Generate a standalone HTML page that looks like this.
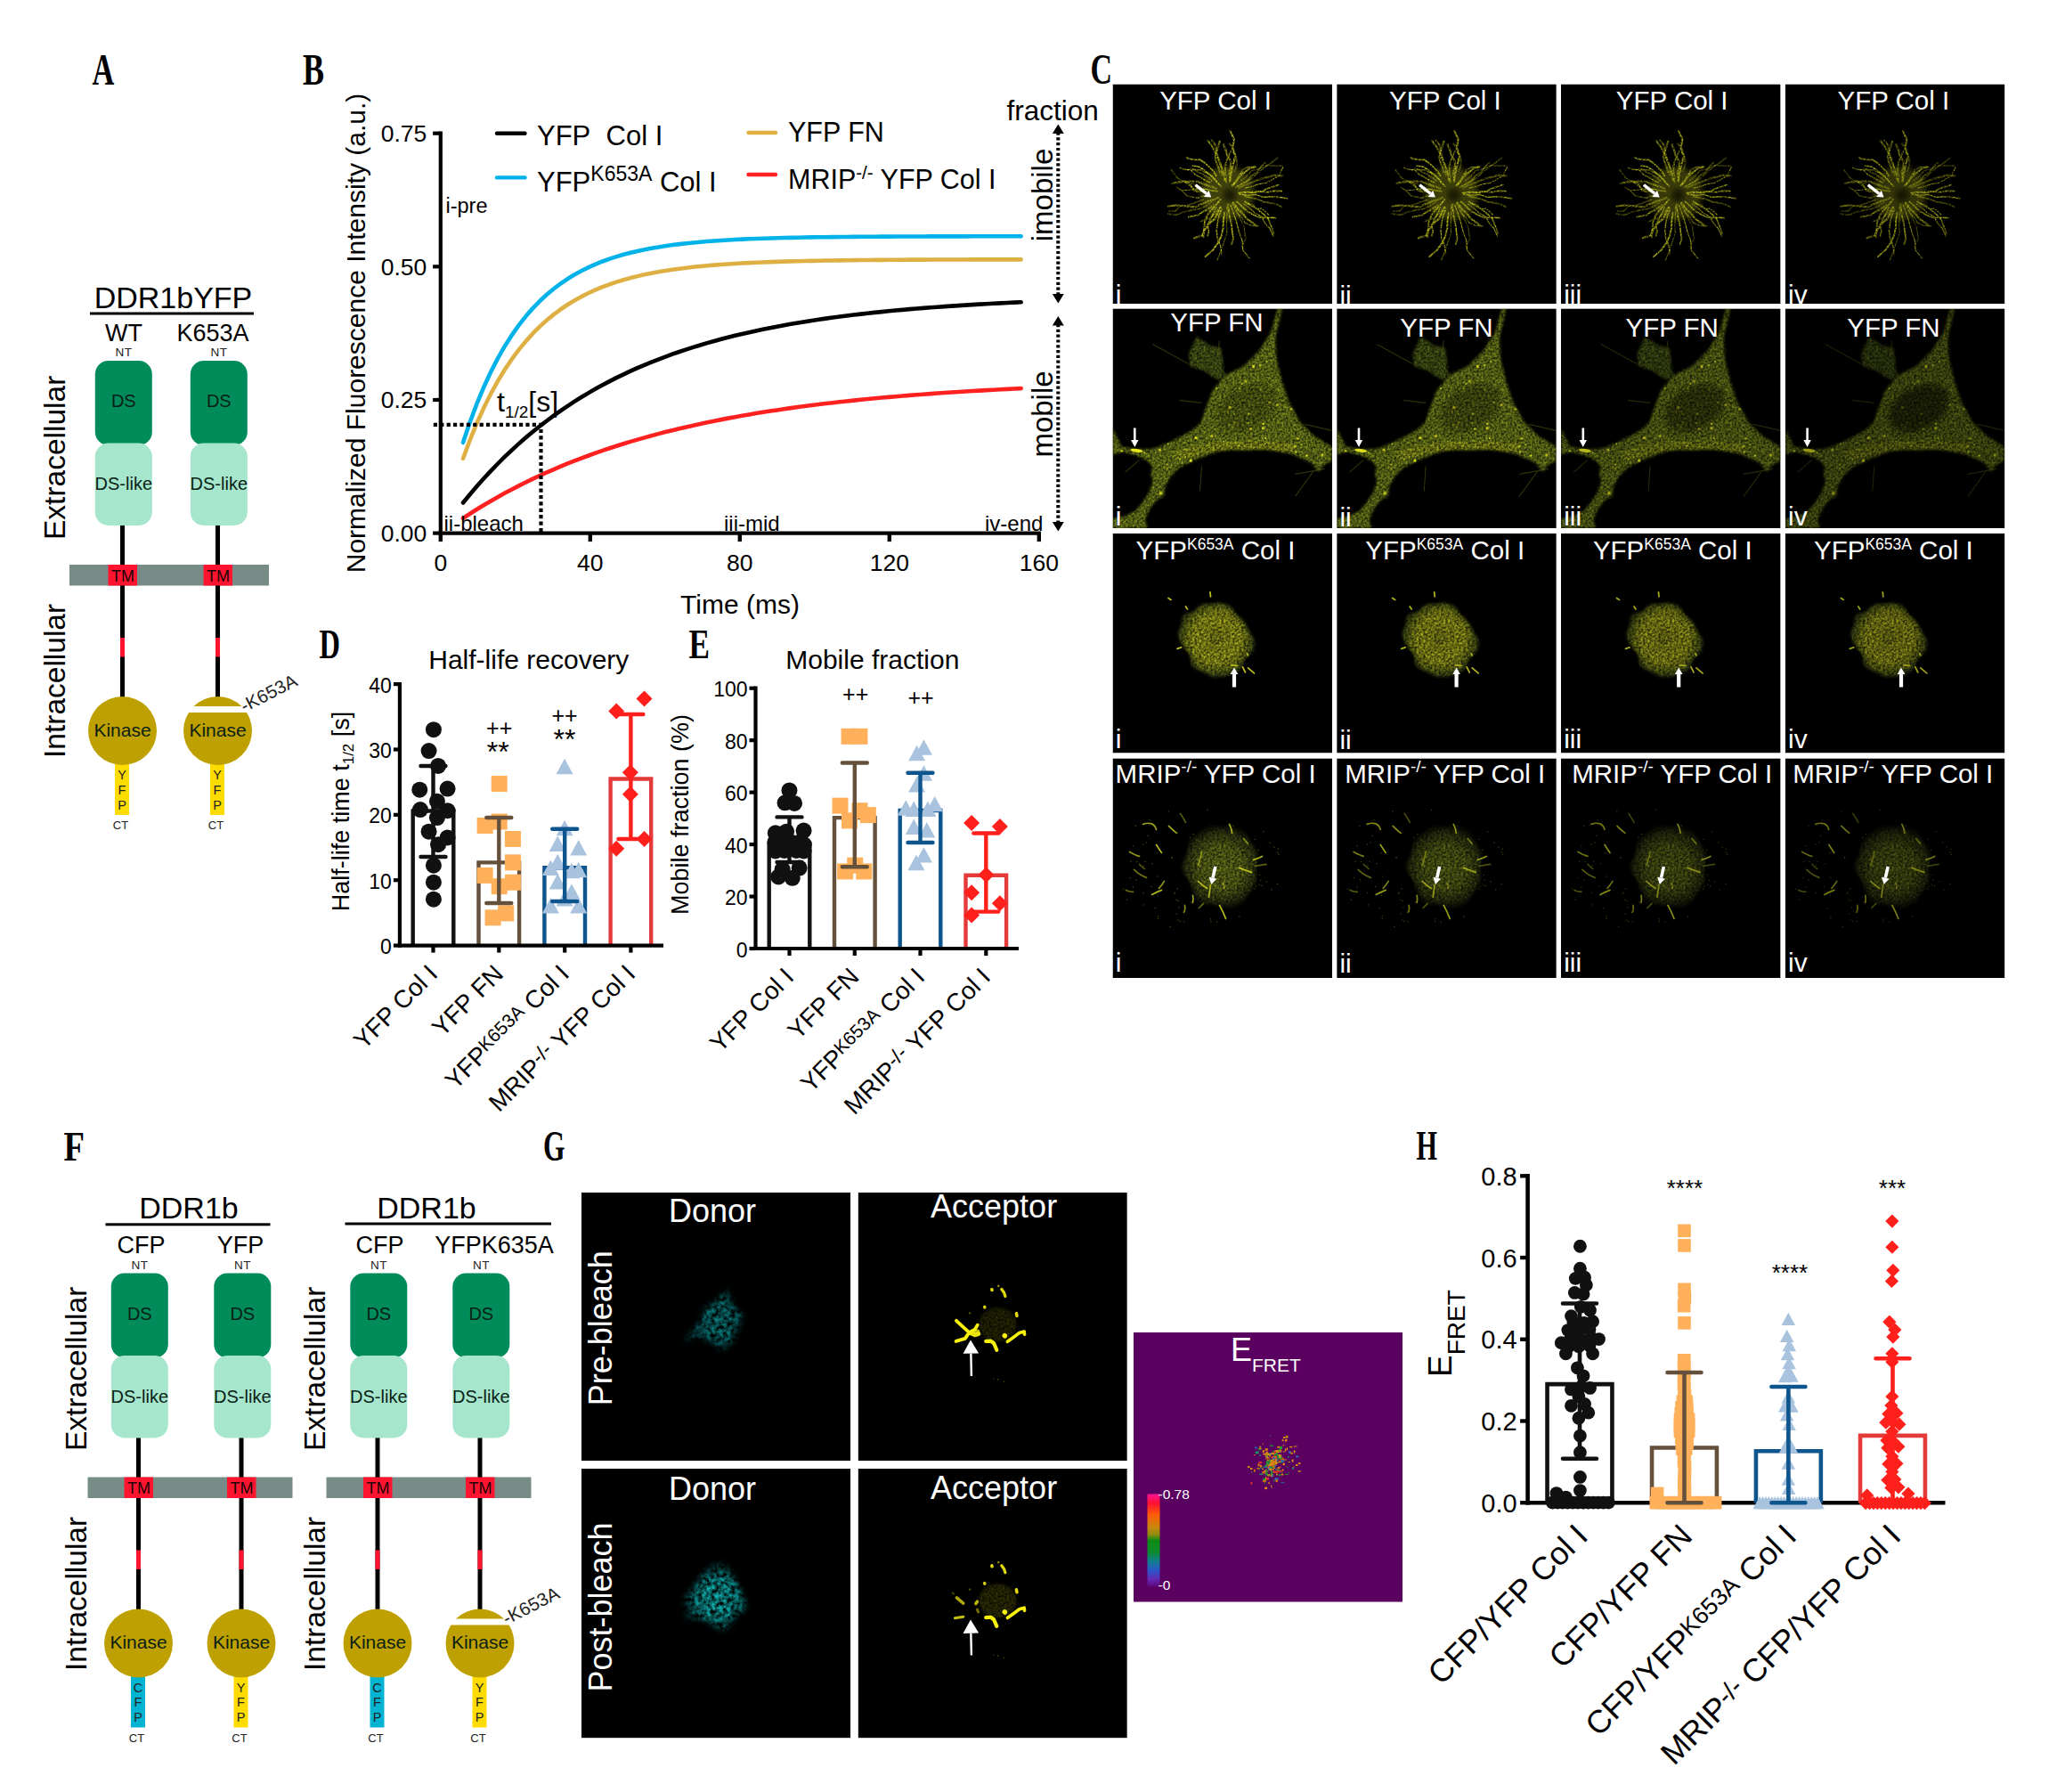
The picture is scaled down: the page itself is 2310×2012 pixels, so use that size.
<!DOCTYPE html>
<html lang="en"><head><meta charset="utf-8"><title>Figure</title>
<style>
html,body{margin:0;padding:0;background:#fff;}
body{width:2310px;height:2012px;overflow:hidden;}
svg{display:block;font-family:"Liberation Sans",sans-serif;}
</style></head><body>
<svg width="2310" height="2012" viewBox="0 0 2310 2012">
<rect width="2310" height="2012" fill="#fff"/>
<g id="pA">
<text x="103.5" y="94.5" font-size="51.45" font-family='"Liberation Serif", serif' font-weight="bold" textLength="24.8" lengthAdjust="spacingAndGlyphs">A</text>
<text x="194.5" y="345.5" font-size="34" text-anchor="middle">DDR1bYFP</text>
<rect x="101" y="350.5" width="184" height="3" fill="#000"/>
<text x="139" y="382.5" font-size="27" text-anchor="middle">WT</text>
<text x="239" y="382.5" font-size="27" text-anchor="middle">K653A</text>
<rect x="78" y="634" width="224" height="23.5" fill="#788c87"/>
<text x="139" y="400" font-size="13.5" text-anchor="middle" fill="#222" letter-spacing="0.6">NT</text>
<rect x="135" y="585" width="5" height="210" fill="#000"/>
<rect x="135" y="716" width="5" height="21.5" fill="#ff1430"/>
<rect x="106.8" y="405" width="64" height="95" fill="#008c5a" rx="15" ry="15"/>
<rect x="106.8" y="497.5" width="64" height="92.5" fill="#a5e6cd" rx="15" ry="15"/>
<text x="138.8" y="457" font-size="20" text-anchor="middle" fill="#0b1f16">DS</text>
<text x="138.8" y="550" font-size="20" text-anchor="middle" fill="#0b1f16">DS-like</text>
<rect x="129" y="855" width="16" height="60" fill="#ffdc00"/>
<circle cx="137.5" cy="820.5" r="38.5" fill="#bea000"/>
<text x="137.5" y="826.5" font-size="21" text-anchor="middle" fill="#0b1f16">Kinase</text>
<text x="137" y="875" font-size="14.5" text-anchor="middle" fill="#222">Y</text>
<text x="137" y="891.8" font-size="14.5" text-anchor="middle" fill="#222">F</text>
<text x="137" y="908.6" font-size="14.5" text-anchor="middle" fill="#222">P</text>
<text x="135.5" y="931" font-size="13" text-anchor="middle" fill="#222">CT</text>
<text x="246" y="400" font-size="13.5" text-anchor="middle" fill="#222" letter-spacing="0.6">NT</text>
<rect x="242" y="585" width="5" height="210" fill="#000"/>
<rect x="242" y="716" width="5" height="21.5" fill="#ff1430"/>
<rect x="213.8" y="405" width="64" height="95" fill="#008c5a" rx="15" ry="15"/>
<rect x="213.8" y="497.5" width="64" height="92.5" fill="#a5e6cd" rx="15" ry="15"/>
<text x="245.8" y="457" font-size="20" text-anchor="middle" fill="#0b1f16">DS</text>
<text x="245.8" y="550" font-size="20" text-anchor="middle" fill="#0b1f16">DS-like</text>
<rect x="236" y="855" width="16" height="60" fill="#ffdc00"/>
<circle cx="244.5" cy="820.5" r="38.5" fill="#bea000"/>
<rect x="204.5" y="793" width="80" height="7" fill="#fff"/>
<text x="244.5" y="826.5" font-size="21" text-anchor="middle" fill="#0b1f16">Kinase</text>
<text x="244" y="875" font-size="14.5" text-anchor="middle" fill="#222">Y</text>
<text x="244" y="891.8" font-size="14.5" text-anchor="middle" fill="#222">F</text>
<text x="244" y="908.6" font-size="14.5" text-anchor="middle" fill="#222">P</text>
<text x="242.5" y="931" font-size="13" text-anchor="middle" fill="#222">CT</text>
<text transform="translate(274.5 800) rotate(-27)" font-size="20.5" fill="#222">-K653A</text>
<rect x="121.5" y="634" width="32.5" height="23.5" fill="#ff1430"/>
<rect x="228.5" y="634" width="32.5" height="23.5" fill="#ff1430"/>
<text x="138" y="652.5" font-size="18" text-anchor="middle" fill="#1a0505">TM</text>
<text x="245" y="652.5" font-size="18" text-anchor="middle" fill="#1a0505">TM</text>
<text transform="translate(72.5 606) rotate(-90)" font-size="33.5">Extracellular</text>
<text transform="translate(72.5 851) rotate(-90)" font-size="33.5">Intracellular</text>
</g>
<g id="pB">
<text x="340" y="94.5" font-size="49.62" font-family='"Liberation Serif", serif' font-weight="bold" textLength="24" lengthAdjust="spacingAndGlyphs">B</text>
<polyline points="520,496.85 527.83,473.72 535.67,452.9 543.5,434.17 551.33,417.3 559.16,402.11 567,388.44 574.83,376.14 582.66,365.07 590.5,355.1 598.33,346.12 606.16,338.05 614,330.77 621.83,324.23 629.66,318.34 637.5,313.03 645.33,308.26 653.16,303.96 660.99,300.09 668.83,296.61 676.66,293.48 684.49,290.65 692.33,288.12 700.16,285.83 707.99,283.77 715.82,281.92 723.66,280.25 731.49,278.75 739.32,277.4 747.16,276.18 754.99,275.09 762.82,274.1 770.66,273.21 778.49,272.42 786.32,271.7 794.15,271.05 801.99,270.47 809.82,269.94 817.65,269.47 825.49,269.05 833.32,268.66 841.15,268.32 848.99,268.01 856.82,267.73 864.65,267.48 872.48,267.25 880.32,267.05 888.15,266.87 895.98,266.7 903.82,266.55 911.65,266.42 919.48,266.3 927.32,266.19 935.15,266.1 942.98,266.01 950.82,265.93 958.65,265.86 966.48,265.79 974.31,265.74 982.15,265.68 989.98,265.64 997.81,265.6 1005.65,265.56 1013.48,265.52 1021.31,265.49 1029.14,265.47 1036.98,265.44 1044.81,265.42 1052.64,265.4 1060.48,265.38 1068.31,265.36 1076.14,265.35 1083.98,265.34 1091.81,265.32 1099.64,265.31 1107.47,265.3 1115.31,265.3 1123.14,265.29 1130.97,265.28 1138.81,265.27 1146.64,265.27" fill="none" stroke="#00b2ea" stroke-width="4.6" stroke-linecap="round" stroke-linejoin="round"/>
<polyline points="520,514.81 527.83,493.77 535.67,474.71 543.5,457.44 551.33,441.8 559.16,427.63 567,414.79 574.83,403.17 582.66,392.63 590.5,383.09 598.33,374.45 606.16,366.62 614,359.53 621.83,353.1 629.66,347.28 637.5,342.01 645.33,337.23 653.16,332.9 660.99,328.98 668.83,325.43 676.66,322.21 684.49,319.3 692.33,316.66 700.16,314.27 707.99,312.1 715.82,310.14 723.66,308.36 731.49,306.75 739.32,305.29 747.16,303.97 754.99,302.78 762.82,301.69 770.66,300.71 778.49,299.82 786.32,299.01 794.15,298.28 801.99,297.62 809.82,297.02 817.65,296.48 825.49,295.99 833.32,295.54 841.15,295.14 848.99,294.77 856.82,294.44 864.65,294.14 872.48,293.87 880.32,293.62 888.15,293.4 895.98,293.2 903.82,293.01 911.65,292.85 919.48,292.7 927.32,292.56 935.15,292.44 942.98,292.33 950.82,292.23 958.65,292.14 966.48,292.05 974.31,291.98 982.15,291.91 989.98,291.85 997.81,291.79 1005.65,291.74 1013.48,291.69 1021.31,291.65 1029.14,291.62 1036.98,291.58 1044.81,291.55 1052.64,291.52 1060.48,291.5 1068.31,291.47 1076.14,291.45 1083.98,291.43 1091.81,291.42 1099.64,291.4 1107.47,291.39 1115.31,291.38 1123.14,291.36 1130.97,291.35 1138.81,291.34 1146.64,291.34" fill="none" stroke="#deb044" stroke-width="4.6" stroke-linecap="round" stroke-linejoin="round"/>
<polyline points="520,564.48 527.83,554.93 535.67,545.77 543.5,536.99 551.33,528.56 559.16,520.48 567,512.73 574.83,505.3 582.66,498.17 590.5,491.33 598.33,484.77 606.16,478.48 614,472.45 621.83,466.67 629.66,461.12 637.5,455.8 645.33,450.69 653.16,445.8 660.99,441.1 668.83,436.6 676.66,432.28 684.49,428.14 692.33,424.17 700.16,420.36 707.99,416.7 715.82,413.2 723.66,409.84 731.49,406.62 739.32,403.52 747.16,400.56 754.99,397.71 762.82,394.99 770.66,392.37 778.49,389.86 786.32,387.46 794.15,385.15 801.99,382.94 809.82,380.81 817.65,378.78 825.49,376.82 833.32,374.95 841.15,373.16 848.99,371.43 856.82,369.78 864.65,368.2 872.48,366.68 880.32,365.22 888.15,363.82 895.98,362.48 903.82,361.2 911.65,359.96 919.48,358.78 927.32,357.65 935.15,356.56 942.98,355.51 950.82,354.51 958.65,353.55 966.48,352.63 974.31,351.75 982.15,350.9 989.98,350.09 997.81,349.31 1005.65,348.57 1013.48,347.85 1021.31,347.16 1029.14,346.5 1036.98,345.87 1044.81,345.26 1052.64,344.68 1060.48,344.13 1068.31,343.59 1076.14,343.08 1083.98,342.59 1091.81,342.11 1099.64,341.66 1107.47,341.23 1115.31,340.81 1123.14,340.41 1130.97,340.03 1138.81,339.66 1146.64,339.31" fill="none" stroke="#000" stroke-width="4.6" stroke-linecap="round" stroke-linejoin="round"/>
<polyline points="520,581.84 527.83,576.74 535.67,571.8 543.5,567.02 551.33,562.4 559.16,557.93 567,553.61 574.83,549.42 582.66,545.37 590.5,541.46 598.33,537.67 606.16,534 614,530.46 621.83,527.02 629.66,523.71 637.5,520.49 645.33,517.39 653.16,514.38 660.99,511.47 668.83,508.66 676.66,505.94 684.49,503.3 692.33,500.76 700.16,498.29 707.99,495.91 715.82,493.6 723.66,491.37 731.49,489.21 739.32,487.12 747.16,485.1 754.99,483.15 762.82,481.25 770.66,479.42 778.49,477.65 786.32,475.94 794.15,474.28 801.99,472.68 809.82,471.13 817.65,469.63 825.49,468.18 833.32,466.77 841.15,465.42 848.99,464.1 856.82,462.83 864.65,461.6 872.48,460.41 880.32,459.26 888.15,458.14 895.98,457.07 903.82,456.02 911.65,455.01 919.48,454.04 927.32,453.09 935.15,452.18 942.98,451.3 950.82,450.44 958.65,449.61 966.48,448.81 974.31,448.04 982.15,447.29 989.98,446.57 997.81,445.87 1005.65,445.19 1013.48,444.53 1021.31,443.9 1029.14,443.28 1036.98,442.69 1044.81,442.11 1052.64,441.56 1060.48,441.02 1068.31,440.5 1076.14,440 1083.98,439.51 1091.81,439.04 1099.64,438.58 1107.47,438.14 1115.31,437.71 1123.14,437.3 1130.97,436.9 1138.81,436.51 1146.64,436.14" fill="none" stroke="#ff2020" stroke-width="4.6" stroke-linecap="round" stroke-linejoin="round"/>
<path d="M486.8 476.8 H607.5 V598.6" fill="none" stroke="#000" stroke-width="4.2" stroke-dasharray="4.2 3.2"/>
<line x1="494.8" y1="147.6" x2="494.8" y2="600.7" stroke="#000" stroke-width="4.2"/>
<line x1="492.7" y1="598.6" x2="1168.9" y2="598.6" stroke="#000" stroke-width="4.2"/>
<line x1="486.1" y1="598.6" x2="494.8" y2="598.6" stroke="#000" stroke-width="4.2"/>
<text x="479.3" y="608.1" font-size="26.5" text-anchor="end">0.00</text>
<line x1="486.1" y1="448.97" x2="494.8" y2="448.97" stroke="#000" stroke-width="4.2"/>
<text x="479.3" y="458.47" font-size="26.5" text-anchor="end">0.25</text>
<line x1="486.1" y1="299.33" x2="494.8" y2="299.33" stroke="#000" stroke-width="4.2"/>
<text x="479.3" y="308.83" font-size="26.5" text-anchor="end">0.50</text>
<line x1="486.1" y1="149.7" x2="494.8" y2="149.7" stroke="#000" stroke-width="4.2"/>
<text x="479.3" y="159.2" font-size="26.5" text-anchor="end">0.75</text>
<line x1="494.8" y1="598.6" x2="494.8" y2="608.1" stroke="#000" stroke-width="4.4"/>
<text x="494.8" y="640.5" font-size="26.5" text-anchor="middle">0</text>
<line x1="662.8" y1="598.6" x2="662.8" y2="608.1" stroke="#000" stroke-width="4.4"/>
<text x="662.8" y="640.5" font-size="26.5" text-anchor="middle">40</text>
<line x1="830.8" y1="598.6" x2="830.8" y2="608.1" stroke="#000" stroke-width="4.4"/>
<text x="830.8" y="640.5" font-size="26.5" text-anchor="middle">80</text>
<line x1="998.8" y1="598.6" x2="998.8" y2="608.1" stroke="#000" stroke-width="4.4"/>
<text x="998.8" y="640.5" font-size="26.5" text-anchor="middle">120</text>
<line x1="1166.8" y1="598.6" x2="1166.8" y2="608.1" stroke="#000" stroke-width="4.4"/>
<text x="1166.8" y="640.5" font-size="26.5" text-anchor="middle">160</text>
<text x="831" y="688.5" font-size="30" text-anchor="middle">Time (ms)</text>
<text transform="translate(410 374) rotate(-90)" font-size="30" text-anchor="middle">Normalized Fluorescence Intensity (a.u.)</text>
<line x1="558" y1="149.8" x2="589.5" y2="149.8" stroke="#000" stroke-width="4.4" stroke-linecap="round"/>
<text x="603" y="162.5" font-size="31">YFP&#160; Col I</text>
<line x1="558" y1="199.4" x2="589.5" y2="199.4" stroke="#00b2ea" stroke-width="4.4" stroke-linecap="round"/>
<text x="603" y="214.5" font-size="31">YFP<tspan font-size="23" dy="-12">K653A</tspan><tspan dy="12"> Col I</tspan></text>
<line x1="840.5" y1="149" x2="871" y2="149" stroke="#deb044" stroke-width="4.4" stroke-linecap="round"/>
<text x="885" y="159.3" font-size="30.5">YFP FN</text>
<line x1="840.5" y1="196" x2="871" y2="196" stroke="#ff2020" stroke-width="4.4" stroke-linecap="round"/>
<text x="885" y="211.5" font-size="30.5">MRIP<tspan font-size="20.5" dy="-11">-/-</tspan><tspan dy="11"> YFP Col I</tspan></text>
<text x="500.5" y="238.5" font-size="23.5">i-pre</text>
<text x="498.5" y="596" font-size="24">ii-bleach</text>
<text x="813" y="596" font-size="24">iii-mid</text>
<text x="1106" y="596" font-size="24">iv-end</text>
<text x="558" y="462" font-size="32">t<tspan font-size="19" dy="6.5">1/2</tspan><tspan dy="-6.5">[s]</tspan></text>
<text x="1130.5" y="135.3" font-size="31.5">fraction</text>
<line x1="1188.3" y1="148.5" x2="1188.3" y2="331.5" stroke="#000" stroke-width="4" stroke-dasharray="3.2 2.6"/>
<path d="M1188.3 139.5 l-6.5 10.5 h13z"/>
<path d="M1188.3 340.5 l-6.5 -10.5 h13z"/>
<line x1="1188.3" y1="364" x2="1188.3" y2="587.5" stroke="#000" stroke-width="4" stroke-dasharray="3.2 2.6"/>
<path d="M1188.3 355 l-6.5 10.5 h13z"/>
<path d="M1188.3 596.5 l-6.5 -10.5 h13z"/>
<text transform="translate(1182 219) rotate(-90)" font-size="33" text-anchor="middle">imobile</text>
<text transform="translate(1182 465) rotate(-90)" font-size="33" text-anchor="middle">mobile</text>
</g>
<g id="pC">
<defs>
<clipPath id="cp"><rect width="246.6" height="246.6"/></clipPath>
<filter id="gr" x="-5%" y="-5%" width="110%" height="110%" color-interpolation-filters="sRGB">
<feGaussianBlur in="SourceGraphic" stdDeviation="1.6" result="b"/>
<feTurbulence type="fractalNoise" baseFrequency="0.4" numOctaves="2" seed="4" result="n"/>
<feColorMatrix in="n" type="matrix" values="0 0 0 0 0 0 0 0 0 0 0 0 0 0 0 1.25 0 0 0 -0.03" result="na"/>
<feComposite in="b" in2="na" operator="in"/>
</filter>
<filter id="gr2" x="-5%" y="-5%" width="110%" height="110%" color-interpolation-filters="sRGB">
<feGaussianBlur in="SourceGraphic" stdDeviation="0.5" result="b"/>
<feTurbulence type="fractalNoise" baseFrequency="0.5" numOctaves="2" seed="9" result="n"/>
<feColorMatrix in="n" type="matrix" values="0 0 0 0 0 0 0 0 0 0 0 0 0 0 0 2.0 0 0 0 -0.35" result="na"/>
<feComposite in="b" in2="na" operator="in"/>
</filter>
<filter id="bl"><feGaussianBlur stdDeviation="0.6"/></filter>
<filter id="bl3"><feGaussianBlur stdDeviation="3"/></filter>
<g id="star">
<circle cx="128.5" cy="122.5" r="30" fill="#7c8014" opacity="0.5" filter="url(#bl3)"/>
<circle cx="131.5" cy="124.5" r="7" fill="#000" opacity="0.6" filter="url(#bl3)"/>
<g fill="none" stroke="#d2d41e" stroke-linecap="round" filter="url(#gr2)">
<polyline points="141.21,122.01 149.29,121.19 157.44,121.77 165.5,120.28 173.67,121.42 181.73,119.96 189.86,120.08" stroke-width="1.71" opacity="0.85"/>
<polyline points="142.49,123.37 151.32,125.02 160.37,123.76 169.09,127.02 178.14,126.2 187.06,126.86 195.91,128.34" stroke-width="1.57" opacity="0.85"/>
<polyline points="148.65,126.08 155.7,127.35 162.66,129.08 169.32,132.16 176.45,133.1 183.46,134.54 190.01,137.96" stroke-width="1.74" opacity="0.56"/>
<polyline points="148.64,132.72 153.21,134.7 158.14,135.9 161.72,139.88 167.34,139.66 171.34,142.87 175.09,146.49" stroke-width="1.38" opacity="0.67"/>
<polyline points="148.48,131.78 155.1,136.07 161.9,139.99 168.19,144.83 174.1,150.24 177.83,158.74 180.83,167.55" stroke-width="1.77" opacity="0.77"/>
<polyline points="147.59,134.65 154.11,139.3 159.96,144.92 167.14,148.61 171.43,156.3 176.74,162.46 180.34,170.48" stroke-width="1.27" opacity="0.82"/>
<polyline points="139.35,132.05 145.18,137.22 150.91,142.51 157.72,146.55 165.01,149.88 174.5,149.68 183.15,150.1" stroke-width="1.63" opacity="0.89"/>
<polyline points="135.5,133.12 138.67,138.06 142.67,142.44 147.12,146.45 150.67,151.13 155.7,154.61 160.69,158.05" stroke-width="2.34" opacity="0.78"/>
<polyline points="138.6,141.04 141.52,147.24 144.28,153.52 147.35,159.64 148.39,166.72 149.35,173.76 145.12,182.41" stroke-width="1.27" opacity="0.44"/>
<polyline points="134.32,134.04 137.42,139.66 140.47,145.3 145.37,149.88 148.42,155.54 155.31,158.63 164.19,159.5" stroke-width="1.5" opacity="0.59"/>
<polyline points="131.93,134.22 135.68,144.38 139.07,154.65 141.75,165.14 145.5,175.3 146.27,186.36 153.56,195.41" stroke-width="1.23" opacity="0.92"/>
<polyline points="129.61,135.09 130.45,142.55 131.5,149.98 133.45,157.3 134.01,164.79 135.56,172.15 133.55,179.93" stroke-width="1.84" opacity="0.83"/>
<polyline points="128.54,136.51 128.4,146.82 127.97,157.11 128.33,167.42 124.74,177.59 121.43,187.63 117.42,197.5" stroke-width="1.23" opacity="0.55"/>
<polyline points="125.56,144.77 124.26,153.45 124.08,162.26 121.91,170.83 117.8,179.04 112.08,186.75 104.1,193.51" stroke-width="1.95" opacity="0.9"/>
<polyline points="122.48,140.13 119.44,147.94 117.67,156.18 116.66,164.63 117.95,173.56 121.4,182.6 122.29,191.11" stroke-width="1.6" opacity="0.84"/>
<polyline points="121.18,137.98 117.95,144.79 114.35,151.41 108.27,156.68 103.7,162.72 100.64,169.67 91.83,172.88" stroke-width="2.38" opacity="0.76"/>
<polyline points="118.77,139.83 116.81,143.41 113.48,146.16 111.31,149.62 106.46,151.19 101.9,152.71 97.99,154.66" stroke-width="1.5" opacity="0.56"/>
<polyline points="116.13,138.92 113.99,143.93 111.27,148.51 108.97,153.36 106.74,158.24 107.86,164.91 106.86,170.32" stroke-width="1.8" opacity="0.69"/>
<polyline points="120.99,129.6 116.21,135.56 111.02,141.11 106.34,147.12 103.49,154.64 102.48,163.22 102.04,171.76" stroke-width="1.87" opacity="0.83"/>
<polyline points="113.36,135.7 109.36,138.88 104.91,141.52 100.18,143.75 96.24,147 90.73,148.07 85.36,149.17" stroke-width="1.81" opacity="0.78"/>
<polyline points="111.26,131.82 104.5,137.02 96.49,140.04 87.82,141.62 79.39,143.47 71.61,146.78 62.12,145.65" stroke-width="1.73" opacity="0.44"/>
<polyline points="118.37,127.54 109.51,130.76 100.71,134.08 92.16,138 81.75,136.84 71.76,135.87 62.41,137.17" stroke-width="2.34" opacity="0.62"/>
<polyline points="101.64,129.72 95.32,131.96 89.06,134.39 82.61,136.13 75.84,136.75 70.58,142.39 63.62,142.61" stroke-width="1.73" opacity="0.41"/>
<polyline points="107.46,125.35 101.49,125.54 95.79,127.68 89.64,126.55 83.58,125.44 77.65,119.11 71.97,115.98" stroke-width="1.36" opacity="0.63"/>
<polyline points="103.82,120.73 99.75,119.94 95.58,120.49 91.56,119.04 88.04,114.61 84.39,111.96 81,108.68" stroke-width="2.33" opacity="0.75"/>
<polyline points="117.17,120.49 107.9,118.91 98.84,116.25 90.2,111.99 80.99,110 72.6,105.17 65.9,96.11" stroke-width="1.49" opacity="0.46"/>
<polyline points="117.88,120.03 111.55,119.28 105.36,117.94 98.92,117.95 92.6,117.32 86.05,118.76 79.67,119.04" stroke-width="1.22" opacity="0.8"/>
<polyline points="116.29,116.95 108.49,114.3 100.73,111.6 93.01,108.79 84.15,109.39 75.57,109.69 66.84,111.3" stroke-width="2.38" opacity="0.59"/>
<polyline points="109.3,110.34 103.63,107.61 98.27,104.35 92.62,101.57 88.27,96.68 81.5,95.75 75.33,93.96" stroke-width="1.3" opacity="0.86"/>
<polyline points="111.58,108.33 108.29,105.26 104.14,103.24 100.66,100.4 96.06,99.04 92.87,95.79 87.96,94.94" stroke-width="1.86" opacity="0.53"/>
<polyline points="118.23,110.8 114.27,106.32 109.87,102.25 104.25,99.4 99.02,96.26 91.32,96.38 84.45,95.99" stroke-width="1.31" opacity="0.62"/>
<polyline points="121.63,114.68 117.19,109.86 112.9,104.91 107.89,100.61 102.7,96.51 97.26,92.69 89.63,91.47" stroke-width="1.59" opacity="0.94"/>
<polyline points="116.4,102.9 113.04,97.62 108.43,93.16 103.89,88.7 98.41,85.01 89.58,84.6 82.92,82.59" stroke-width="1.81" opacity="0.86"/>
<polyline points="120.46,98.96 118.85,93.56 116.47,88.41 115.26,82.87 115.92,76.78 118.41,70.41 120.32,64.38" stroke-width="2.2" opacity="0.71"/>
<polyline points="122.6,102.06 122.45,95.14 120.84,88.58 118.52,82.19 116.96,75.62 115.79,68.96 111.28,63.17" stroke-width="2.08" opacity="0.54"/>
<polyline points="125.86,107.96 124.72,99.94 121.77,92.27 118.74,84.68 115.5,77.17 111.8,69.84 106.51,63.1" stroke-width="1.94" opacity="0.75"/>
<polyline points="127.45,109.89 127.42,103.97 126.29,98.12 126.49,92.18 127.73,86.21 130.5,80.33 133,74.59" stroke-width="2.01" opacity="0.56"/>
<polyline points="131.52,104.39 131.02,98.17 132.96,92.28 132.57,86.08 128.21,79.76 127.1,73.69 124.67,67.71" stroke-width="2.36" opacity="0.65"/>
<polyline points="131.66,109.09 132.91,99.73 135.21,90.59 137.57,81.47 134.57,71.43 136.38,62.17 132.15,52.34" stroke-width="2.26" opacity="0.79"/>
<polyline points="136.48,97.59 138.89,93.23 139.61,88.3 139.11,83.04 137.33,77.6 135.53,72.33 131.27,67.01" stroke-width="2.21" opacity="0.4"/>
<polyline points="142.27,101.51 144.51,99.25 145.56,96.2 148.46,94.39 151.81,93.01 157.17,93.59 160.75,92.81" stroke-width="1.63" opacity="0.64"/>
<polyline points="134.65,113.54 138.46,109.64 141.1,104.88 144.88,100.96 149.62,97.86 153.83,94.37 159.8,92.65" stroke-width="2.35" opacity="0.89"/>
<polyline points="144.39,108.23 150.74,103.37 156,97.28 164.54,95.06 171.8,91.47 181.3,91.45 190.55,91.8" stroke-width="1.54" opacity="0.43"/>
<polyline points="138.63,115.54 144.86,112.02 151.03,108.42 155.75,102.68 161.84,98.92 166.18,92.81 171.51,88.04" stroke-width="1.67" opacity="0.49"/>
<polyline points="139.84,114.74 148.12,110.6 156.11,106.02 163.05,99.76 170.03,93.64 177.72,88.57 184.96,82.85" stroke-width="1.61" opacity="0.45"/>
<polyline points="141.75,116.24 149.42,112.72 157.35,109.76 165.22,106.68 173.46,104.5 181.62,102.17 190.86,103.04" stroke-width="2.36" opacity="0.47"/>
<polyline points="148.99,116.58 156.75,114.59 164.37,112.15 172.32,110.88 179.54,107.02 186.59,102.81 191.33,93.16" stroke-width="1.24" opacity="0.79"/>
<polyline points="147.01,121.88 153.71,121.41 160.41,121.02 167.11,120.72 173.56,117.22 180.04,115.02 186.54,113.11" stroke-width="1.83" opacity="0.78"/>
</g></g><g id="tri">
<g filter="url(#gr)">
<path d="M185.3 0L177.7 26.5L165 46.8L147.4 64.5L127 74.6L112 92.3L104.4 112.5L99 128L90.3 136L75.7 144L61.1 151.3L46.5 157.1L36.3 158.2L24.7 157.9L10.1 155L0 134.5L0 164.4L10.1 160.8L21 163L30.5 166.6L39.3 171L44.4 177.6L42.9 185.6L45.1 192.9L42.9 200.9L39.3 209.6L33.4 217.7L26.1 227.2L13.7 233L0 235.9L0 247.2L39.3 247.2L36.3 237.4L42.2 224.2L50.2 214L57.5 211.1L58.9 200.2L64.8 189.2L74.3 179L90.3 171L104.9 165.2L119.5 160.1L134 158.6L145.5 159.3L172.6 158L200.5 163L223.2 173.2L230.8 183.3L237.1 175.7L246.7 170.6L246.7 155.5L225.7 142.8L210.6 127.7L197.9 104.9L190.3 82.2L184 56.9L182.8 31.6L190.3 0Z" fill="#8ea222"/>
<path d="M85.4 50.6L94.3 31.6L109.5 41.7L122 44.2L124.6 69.5L127 78L117 79.6L101.9 69.5L86.7 64.5Z" fill="#5c701c"/>
<path d="M70 166 Q125 146 205 157" stroke="#d8e022" stroke-width="10" fill="none" opacity="0.5"/>
</g>
<g stroke="#5a6418" stroke-width="1.1" fill="none" opacity="0.55">
<path d="M75 103 L100 106"/>
<path d="M45 40 L85 62"/>
<path d="M216 130 L246 137"/>
<path d="M226 182 L205 211"/>
<path d="M100 177 L98 205"/>
<path d="M30 170 L14 184"/>
<path d="M120 36 L118 52"/>
<path d="M205 186 L238 180"/>
</g>
<g fill="#f4f420" filter="url(#bl)">
<circle cx="111.31" cy="143.15" r="1.63" opacity="0.73"/>
<circle cx="124.34" cy="149.22" r="0.97" opacity="0.76"/>
<circle cx="158.67" cy="155.42" r="0.94" opacity="0.51"/>
<circle cx="185.08" cy="108.09" r="1.56" opacity="0.69"/>
<circle cx="22.16" cy="158.48" r="1.5" opacity="0.63"/>
<circle cx="136.43" cy="118.43" r="0.97" opacity="0.87"/>
<circle cx="35.78" cy="161.62" r="0.9" opacity="0.71"/>
<circle cx="205.78" cy="161.2" r="0.89" opacity="0.99"/>
<circle cx="186.58" cy="92.37" r="1.07" opacity="0.54"/>
<circle cx="62.11" cy="152.28" r="1.13" opacity="0.73"/>
<circle cx="212.31" cy="152.78" r="1.18" opacity="0.55"/>
<circle cx="61.03" cy="175.01" r="1.03" opacity="0.91"/>
<circle cx="145.17" cy="84.56" r="0.96" opacity="0.86"/>
<circle cx="149.36" cy="81.65" r="1.63" opacity="0.6"/>
<circle cx="235.42" cy="164.53" r="1.42" opacity="0.79"/>
<circle cx="10" cy="159.96" r="1.23" opacity="0.87"/>
<circle cx="87.68" cy="170.73" r="1.61" opacity="0.94"/>
<circle cx="207.92" cy="146.02" r="1.36" opacity="0.69"/>
<circle cx="141.93" cy="153.95" r="0.87" opacity="0.82"/>
<circle cx="176.13" cy="105.46" r="1.46" opacity="0.79"/>
<circle cx="169.11" cy="129.4" r="1.35" opacity="0.96"/>
<circle cx="75.74" cy="169.19" r="0.98" opacity="0.58"/>
<circle cx="217.84" cy="165.2" r="1.2" opacity="0.95"/>
<circle cx="81.84" cy="166.5" r="0.98" opacity="0.72"/>
<circle cx="142.03" cy="89.63" r="0.92" opacity="0.75"/>
<circle cx="152.05" cy="128.65" r="1.08" opacity="0.92"/>
<circle cx="171.53" cy="145.53" r="1.08" opacity="0.9"/>
<circle cx="152.86" cy="118.23" r="1.37" opacity="0.83"/>
<circle cx="165.86" cy="63.86" r="1.23" opacity="0.59"/>
<circle cx="172.83" cy="59.4" r="1.05" opacity="0.67"/>
<circle cx="168.87" cy="134.49" r="1.35" opacity="0.88"/>
<circle cx="93.55" cy="145.14" r="1.59" opacity="0.9"/>
<circle cx="158.06" cy="65.08" r="1.45" opacity="0.91"/>
<circle cx="155.13" cy="135.01" r="1.56" opacity="0.78"/>
<circle cx="53.94" cy="207.17" r="1.67" opacity="0.76"/>
<circle cx="130.94" cy="130.7" r="1.34" opacity="0.51"/>
<circle cx="137.27" cy="128.03" r="1.42" opacity="0.53"/>
<circle cx="131.6" cy="111.03" r="1.66" opacity="0.96"/>
<circle cx="116.99" cy="89.79" r="0.97" opacity="0.81"/>
<circle cx="166.45" cy="90.86" r="1.12" opacity="0.81"/>
<circle cx="129.63" cy="116.09" r="1.14" opacity="0.71"/>
<circle cx="53" cy="158.89" r="1.37" opacity="0.76"/>
<circle cx="205.05" cy="154.58" r="1.57" opacity="0.62"/>
<circle cx="61.25" cy="179.85" r="1.03" opacity="0.55"/>
<circle cx="200.56" cy="112.76" r="1.51" opacity="0.56"/>
<circle cx="134.64" cy="133.26" r="1.31" opacity="0.57"/>
<ellipse cx="27" cy="159.5" rx="7" ry="1.8" transform="rotate(8 27 159.5)"/>
</g>
</g>
<ellipse id="nuc" cx="150" cy="112" rx="36" ry="24" transform="rotate(-28 150 112)" fill="#000" filter="url(#bl3)"/><radialGradient id="bg" cx="116.5" cy="118" r="42" gradientUnits="userSpaceOnUse"><stop offset="0" stop-color="#8c921c"/><stop offset="0.3" stop-color="#b0b41e"/><stop offset="0.6" stop-color="#bcc020"/><stop offset="0.85" stop-color="#7c861a"/><stop offset="1" stop-color="#46541a"/></radialGradient>
<g id="blob">
<g filter="url(#gr)">
<path d="M144.47 151.34C142.22 154.17 138.71 156.28 135.32 157.87C131.93 159.46 128.01 160.33 124.12 160.86C120.24 161.4 115.93 161.99 112.02 161.08C108.11 160.17 104.39 157.39 100.65 155.4C96.9 153.4 91.93 152.35 89.57 149.11C87.22 145.87 88.31 139.67 86.51 135.93C84.72 132.19 81.01 130.18 78.81 126.68C76.61 123.18 73.65 118.81 73.29 114.93C72.93 111.06 75.61 107.28 76.64 103.43C77.68 99.58 77.1 94.46 79.51 91.84C81.91 89.21 87.88 89.65 91.06 87.68C94.24 85.71 95.48 81.44 98.57 80.02C101.66 78.61 105.91 79.56 109.6 79.2C113.28 78.83 116.96 77.4 120.68 77.81C124.4 78.23 128.79 79.38 131.9 81.69C135 83.99 136.67 88.71 139.29 91.67C141.91 94.62 145.34 96.41 147.61 99.4C149.87 102.39 150.92 106 152.91 109.61C154.89 113.22 158.8 117.18 159.51 121.05C160.22 124.93 158.96 129.57 157.18 132.87C155.4 136.18 150.96 137.8 148.85 140.88C146.73 143.96 146.73 148.51 144.47 151.34Z" fill="url(#bg)"/>
</g>
<g stroke="#b8bc1e" stroke-width="1.8" stroke-linecap="round" fill="none" filter="url(#bl)">
<path d="M110 71 L109.5 66"/>
<path d="M65.5 74.5 L62.5 72.5"/>
<path d="M84 85 L82 82"/>
<path d="M77 128 L72.5 129.5"/>
<path d="M133 148 L140 148.5"/>
<path d="M146 150 L149 156"/>
<path d="M152 151 L159 157"/>
<path d="M151 135 L152 137"/>
</g>
</g><radialGradient id="mg" cx="122" cy="122" r="50" gradientUnits="userSpaceOnUse"><stop offset="0" stop-color="#7c8a20"/><stop offset="0.5" stop-color="#6c7a1c"/><stop offset="0.8" stop-color="#46541a" stop-opacity="0.75"/><stop offset="1" stop-color="#2c3a10" stop-opacity="0"/></radialGradient>
<g id="mrip">
<g filter="url(#gr)"><path d="M160.85 122C160.6 127.19 162.43 132.6 161.34 137.28C160.25 141.95 156.76 145.85 154.31 150.05C151.85 154.25 149.82 159.18 146.6 162.47C143.38 165.75 139.09 169.06 134.99 169.77C130.89 170.49 126.07 167.69 122 166.74C117.93 165.79 114.85 164.47 110.56 164.06C106.28 163.66 99.63 166.76 96.27 164.32C92.92 161.88 92.29 154.08 90.43 149.42C88.56 144.75 87.33 140.91 85.08 136.34C82.83 131.77 77.24 126.9 76.94 122C76.63 117.1 81.63 112.07 83.24 106.95C84.85 101.82 84.14 95.33 86.6 91.26C89.06 87.19 94.28 85.41 98.01 82.55C101.74 79.69 104.98 75.12 108.98 74.1C112.98 73.08 117.66 76.42 122 76.42C126.34 76.43 130.7 73.64 135.01 74.14C139.32 74.64 144.49 76.29 147.87 79.44C151.26 82.59 152.82 88.62 155.32 93.06C157.82 97.51 161.95 101.31 162.87 106.13C163.8 110.95 161.11 116.81 160.85 122Z" fill="url(#mg)"/></g>
<g stroke="#c8cc20" stroke-width="1.7" stroke-linecap="round" fill="none" filter="url(#bl)">
<path d="M34 74 Q46 70 49 80" opacity="0.77"/>
<path d="M76 62 Q80 68 82 72" opacity="0.44"/>
<path d="M63 76 Q69 82 72 84" opacity="0.82"/>
<path d="M19 105 Q26 109 30 110" opacity="0.73"/>
<path d="M24 125 Q30 131 38 134" opacity="0.57"/>
<path d="M30 119 Q34 123 36 124" opacity="0.42"/>
<path d="M44 153 Q50 150 55 148" opacity="0.88"/>
<path d="M81 165 Q82 170 80 173" opacity="0.66"/>
<path d="M90 154 Q91 158 90 162" opacity="0.8"/>
<path d="M96 138 Q101 143 106 146" opacity="0.88"/>
<path d="M110 142 Q109 150 108 156" opacity="0.79"/>
<path d="M120 165 Q124 172 127 180" opacity="0.91"/>
<path d="M124 140 Q126 144 125 146" opacity="0.62"/>
<path d="M131 74 Q134 80 134 84" opacity="0.84"/>
<path d="M147 90 Q150 94 152 96" opacity="0.64"/>
<path d="M142 123 Q150 126 156 128" opacity="0.91"/>
<path d="M158 114 Q164 112 168 110" opacity="0.88"/>
<path d="M160 121 Q166 120 172 119" opacity="0.45"/>
<path d="M97 168 Q100 165 102 163" opacity="0.47"/>
<path d="M15 148 Q19 150 23 150" opacity="0.52"/>
<path d="M49 97 Q52 102 55 106" opacity="0.93"/>
<path d="M100 105 Q98 115 96 120" opacity="0.64"/>
<path d="M58 138 Q55 143 52 146" opacity="0.74"/>
</g>
<g fill="#8a961c" opacity="0.55">
<rect x="74.16" y="166.82" width="1.2" height="1.2"/>
<rect x="53.21" y="148.03" width="1.2" height="1.2"/>
<rect x="33.58" y="96.03" width="1.2" height="1.2"/>
<rect x="159.33" y="90.43" width="1.2" height="1.2"/>
<rect x="176.13" y="94.26" width="1.2" height="1.2"/>
<rect x="172.19" y="118.88" width="1.2" height="1.2"/>
<rect x="141.86" y="177.08" width="1.2" height="1.2"/>
<rect x="185.95" y="107.32" width="1.2" height="1.2"/>
<rect x="22.23" y="97.89" width="1.2" height="1.2"/>
<rect x="116.34" y="183.17" width="1.2" height="1.2"/>
<rect x="49.39" y="105.78" width="1.2" height="1.2"/>
<rect x="177.74" y="146.9" width="1.2" height="1.2"/>
<rect x="132.46" y="120.28" width="1.2" height="1.2"/>
<rect x="113.6" y="81.62" width="1.2" height="1.2"/>
<rect x="125.1" y="151.9" width="1.2" height="1.2"/>
<rect x="105.73" y="57.41" width="1.2" height="1.2"/>
<rect x="165.63" y="136.38" width="1.2" height="1.2"/>
<rect x="172.34" y="138.03" width="1.2" height="1.2"/>
<rect x="50.38" y="179.16" width="1.2" height="1.2"/>
<rect x="160.51" y="116.28" width="1.2" height="1.2"/>
<rect x="147.63" y="121.65" width="1.2" height="1.2"/>
<rect x="159.13" y="146.06" width="1.2" height="1.2"/>
<rect x="139.1" y="128.29" width="1.2" height="1.2"/>
<rect x="33.74" y="150.57" width="1.2" height="1.2"/>
<rect x="114.12" y="142.42" width="1.2" height="1.2"/>
<rect x="130.68" y="94.09" width="1.2" height="1.2"/>
<rect x="184.59" y="104.99" width="1.2" height="1.2"/>
<rect x="49.73" y="153.22" width="1.2" height="1.2"/>
<rect x="20.15" y="115.22" width="1.2" height="1.2"/>
<rect x="37.54" y="93.86" width="1.2" height="1.2"/>
<rect x="25.29" y="75.17" width="1.2" height="1.2"/>
<rect x="34.13" y="120.08" width="1.2" height="1.2"/>
<rect x="86.15" y="88.51" width="1.2" height="1.2"/>
<rect x="64.01" y="188.58" width="1.2" height="1.2"/>
<rect x="26.68" y="115.48" width="1.2" height="1.2"/>
<rect x="154.68" y="125.07" width="1.2" height="1.2"/>
<rect x="66.19" y="110.69" width="1.2" height="1.2"/>
<rect x="39.26" y="86.54" width="1.2" height="1.2"/>
<rect x="164.08" y="141.57" width="1.2" height="1.2"/>
<rect x="18.88" y="133.71" width="1.2" height="1.2"/>
<rect x="47.09" y="167.54" width="1.2" height="1.2"/>
<rect x="92.52" y="98.49" width="1.2" height="1.2"/>
<rect x="167.08" y="142.6" width="1.2" height="1.2"/>
<rect x="142.35" y="114.06" width="1.2" height="1.2"/>
<rect x="25.74" y="135.93" width="1.2" height="1.2"/>
<rect x="71" y="158.41" width="1.2" height="1.2"/>
<rect x="73.25" y="159.4" width="1.2" height="1.2"/>
<rect x="52.1" y="101" width="1.2" height="1.2"/>
<rect x="34.65" y="163.95" width="1.2" height="1.2"/>
<rect x="164.35" y="130.46" width="1.2" height="1.2"/>
<rect x="90.1" y="84.55" width="1.2" height="1.2"/>
<rect x="109.83" y="182.77" width="1.2" height="1.2"/>
<rect x="98.14" y="153.56" width="1.2" height="1.2"/>
<rect x="22.32" y="144.37" width="1.2" height="1.2"/>
<rect x="137.89" y="144.81" width="1.2" height="1.2"/>
<rect x="50.6" y="176.59" width="1.2" height="1.2"/>
<rect x="11.75" y="146.22" width="1.2" height="1.2"/>
<rect x="121.46" y="156.02" width="1.2" height="1.2"/>
<rect x="41.09" y="68.84" width="1.2" height="1.2"/>
<rect x="50.34" y="132.12" width="1.2" height="1.2"/>
<rect x="144.04" y="155.28" width="1.2" height="1.2"/>
<rect x="126.46" y="179.6" width="1.2" height="1.2"/>
<rect x="118.24" y="95.29" width="1.2" height="1.2"/>
<rect x="79.53" y="182.86" width="1.2" height="1.2"/>
<rect x="40.66" y="73.9" width="1.2" height="1.2"/>
<rect x="72.26" y="145.81" width="1.2" height="1.2"/>
<rect x="72.68" y="181.09" width="1.2" height="1.2"/>
<rect x="87.69" y="161.04" width="1.2" height="1.2"/>
<rect x="42.86" y="143.43" width="1.2" height="1.2"/>
<rect x="15.51" y="158.27" width="1.2" height="1.2"/>
<rect x="112.72" y="140.88" width="1.2" height="1.2"/>
<rect x="180.8" y="99.18" width="1.2" height="1.2"/>
<rect x="155.94" y="118.41" width="1.2" height="1.2"/>
<rect x="185.18" y="101.14" width="1.2" height="1.2"/>
<rect x="109.37" y="179.94" width="1.2" height="1.2"/>
<rect x="134.77" y="75.11" width="1.2" height="1.2"/>
<rect x="44.14" y="117.64" width="1.2" height="1.2"/>
<rect x="69.54" y="150.24" width="1.2" height="1.2"/>
<rect x="160.22" y="143.24" width="1.2" height="1.2"/>
<rect x="75" y="182.33" width="1.2" height="1.2"/>
<rect x="184.46" y="140.6" width="1.2" height="1.2"/>
<rect x="62.25" y="58.64" width="1.2" height="1.2"/>
<rect x="168.96" y="81.85" width="1.2" height="1.2"/>
<rect x="66.32" y="111.24" width="1.2" height="1.2"/>
<rect x="93.72" y="91.14" width="1.2" height="1.2"/>
<rect x="71.34" y="174.15" width="1.2" height="1.2"/>
<rect x="35.99" y="115.33" width="1.2" height="1.2"/>
<rect x="162.97" y="102.44" width="1.2" height="1.2"/>
<rect x="68.54" y="151.23" width="1.2" height="1.2"/>
<rect x="136.35" y="87.05" width="1.2" height="1.2"/>
</g>
</g>
</defs>
<text x="1224.5" y="94" font-size="48.09" font-family='"Liberation Serif", serif' font-weight="bold" textLength="24.5" lengthAdjust="spacingAndGlyphs">C</text>
<g transform="translate(1249.5 94.5)" clip-path="url(#cp)">
<rect width="246.6" height="246.6" fill="#000"/>
<use href="#star" opacity="1"/>
<path d="M93 113.2 L105.19 122.78" stroke="#fff" stroke-width="3.4"/><path d="M110.7 127.1 L102.35 126.39 L108.04 119.16 Z" fill="#fff"/>
<text x="115.5" y="28.6" font-size="29.5" text-anchor="middle" fill="#fff">YFP Col I</text>
<text x="3.2" y="246" font-size="30" fill="#fff">i</text>
</g>
<g transform="translate(1501.2 94.5)" clip-path="url(#cp)">
<rect width="246.6" height="246.6" fill="#000"/>
<use href="#star" opacity="0.95"/>
<path d="M93 113.2 L105.19 122.78" stroke="#fff" stroke-width="3.4"/><path d="M110.7 127.1 L102.35 126.39 L108.04 119.16 Z" fill="#fff"/>
<text x="121.7" y="28.6" font-size="29.5" text-anchor="middle" fill="#fff">YFP Col I</text>
<text x="3.2" y="247.2" font-size="30" fill="#fff">ii</text>
</g>
<g transform="translate(1753 94.5)" clip-path="url(#cp)">
<rect width="246.6" height="246.6" fill="#000"/>
<use href="#star" opacity="0.9"/>
<path d="M93 113.2 L105.19 122.78" stroke="#fff" stroke-width="3.4"/><path d="M110.7 127.1 L102.35 126.39 L108.04 119.16 Z" fill="#fff"/>
<text x="124.7" y="28.6" font-size="29.5" text-anchor="middle" fill="#fff">YFP Col I</text>
<text x="3.2" y="246" font-size="30" fill="#fff">iii</text>
</g>
<g transform="translate(2004.8 94.5)" clip-path="url(#cp)">
<rect width="246.6" height="246.6" fill="#000"/>
<use href="#star" opacity="0.8"/>
<path d="M93 113.2 L105.19 122.78" stroke="#fff" stroke-width="3.4"/><path d="M110.7 127.1 L102.35 126.39 L108.04 119.16 Z" fill="#fff"/>
<text x="121.6" y="28.6" font-size="29.5" text-anchor="middle" fill="#fff">YFP Col I</text>
<text x="3.2" y="246" font-size="30" fill="#fff">iv</text>
</g>
<g transform="translate(1249.5 346.4)" clip-path="url(#cp)">
<rect width="246.6" height="246.6" fill="#000"/>
<use href="#tri" opacity="0.95"/>
<use href="#nuc" opacity="0.22"/>
<path d="M24.8 134 L24.8 147.5" stroke="#fff" stroke-width="2.6"/><path d="M24.8 155.5 L20.6 147.5 L29 147.5 Z" fill="#fff"/>
<text x="117" y="25.3" font-size="29.5" text-anchor="middle" fill="#fff">YFP FN</text>
<text x="3.2" y="243.2" font-size="30" fill="#fff">i</text>
</g>
<g transform="translate(1501.2 346.4)" clip-path="url(#cp)">
<rect width="246.6" height="246.6" fill="#000"/>
<use href="#tri" opacity="0.9"/>
<use href="#nuc" opacity="0.3"/>
<path d="M24.8 134 L24.8 147.5" stroke="#fff" stroke-width="2.6"/><path d="M24.8 155.5 L20.6 147.5 L29 147.5 Z" fill="#fff"/>
<text x="123.2" y="31.5" font-size="29.5" text-anchor="middle" fill="#fff">YFP FN</text>
<text x="3.2" y="244.4" font-size="30" fill="#fff">ii</text>
</g>
<g transform="translate(1753 346.4)" clip-path="url(#cp)">
<rect width="246.6" height="246.6" fill="#000"/>
<use href="#tri" opacity="0.76"/>
<use href="#nuc" opacity="0.42"/>
<path d="M24.8 134 L24.8 147.5" stroke="#fff" stroke-width="2.6"/><path d="M24.8 155.5 L20.6 147.5 L29 147.5 Z" fill="#fff"/>
<text x="124.7" y="31.5" font-size="29.5" text-anchor="middle" fill="#fff">YFP FN</text>
<text x="3.2" y="243.2" font-size="30" fill="#fff">iii</text>
</g>
<g transform="translate(2004.8 346.4)" clip-path="url(#cp)">
<rect width="246.6" height="246.6" fill="#000"/>
<use href="#tri" opacity="0.62"/>
<use href="#nuc" opacity="0.55"/>
<path d="M24.8 134 L24.8 147.5" stroke="#fff" stroke-width="2.6"/><path d="M24.8 155.5 L20.6 147.5 L29 147.5 Z" fill="#fff"/>
<text x="121.6" y="31.5" font-size="29.5" text-anchor="middle" fill="#fff">YFP FN</text>
<text x="3.2" y="243.2" font-size="30" fill="#fff">iv</text>
</g>
<g transform="translate(1249.5 598.9)" clip-path="url(#cp)">
<rect width="246.6" height="246.6" fill="#000"/>
<use href="#blob" opacity="1"/>
<path d="M136.5 172.5 L136.5 158.1" stroke="#fff" stroke-width="4.2"/><path d="M136.5 150.7 L140.8 158.1 L132.2 158.1 Z" fill="#fff"/>
<text x="115.5" y="29" font-size="29.5" text-anchor="middle" fill="#fff">YFP<tspan font-size="17.5" dy="-11">K653A</tspan><tspan dy="11"> Col I</tspan></text>
<text x="3.2" y="240.8" font-size="30" fill="#fff">i</text>
</g>
<g transform="translate(1501.2 598.9)" clip-path="url(#cp)">
<rect width="246.6" height="246.6" fill="#000"/>
<use href="#blob" opacity="0.95"/>
<path d="M134.4 172.5 L134.4 158.1" stroke="#fff" stroke-width="4.2"/><path d="M134.4 150.7 L138.7 158.1 L130.1 158.1 Z" fill="#fff"/>
<text x="121.5" y="29" font-size="29.5" text-anchor="middle" fill="#fff">YFP<tspan font-size="17.5" dy="-11">K653A</tspan><tspan dy="11"> Col I</tspan></text>
<text x="3.2" y="242" font-size="30" fill="#fff">ii</text>
</g>
<g transform="translate(1753 598.9)" clip-path="url(#cp)">
<rect width="246.6" height="246.6" fill="#000"/>
<use href="#blob" opacity="0.9"/>
<path d="M132.2 172.5 L132.2 158.1" stroke="#fff" stroke-width="4.2"/><path d="M132.2 150.7 L136.5 158.1 L127.9 158.1 Z" fill="#fff"/>
<text x="125.3" y="29" font-size="29.5" text-anchor="middle" fill="#fff">YFP<tspan font-size="17.5" dy="-11">K653A</tspan><tspan dy="11"> Col I</tspan></text>
<text x="3.2" y="240.8" font-size="30" fill="#fff">iii</text>
</g>
<g transform="translate(2004.8 598.9)" clip-path="url(#cp)">
<rect width="246.6" height="246.6" fill="#000"/>
<use href="#blob" opacity="0.85"/>
<path d="M130.2 172.5 L130.2 158.1" stroke="#fff" stroke-width="4.2"/><path d="M130.2 150.7 L134.5 158.1 L125.9 158.1 Z" fill="#fff"/>
<text x="121.6" y="29" font-size="29.5" text-anchor="middle" fill="#fff">YFP<tspan font-size="17.5" dy="-11">K653A</tspan><tspan dy="11"> Col I</tspan></text>
<text x="3.2" y="240.8" font-size="30" fill="#fff">iv</text>
</g>
<g transform="translate(1249.5 851.4)" clip-path="url(#cp)">
<rect width="246.6" height="246.6" fill="#000"/>
<use href="#mrip" opacity="1"/>
<path d="M115.4 121.6 L112.48 134.29" stroke="#fff" stroke-width="3.6"/><path d="M110.8 141.6 L108.1 133.28 L116.87 135.3 Z" fill="#fff"/>
<text x="115.6" y="27.3" font-size="29.5" text-anchor="middle" fill="#fff">MRIP<tspan font-size="19" dy="-11.5">-/-</tspan><tspan dy="11.5"> YFP Col I</tspan></text>
<text x="3.2" y="239.8" font-size="30" fill="#fff">i</text>
</g>
<g transform="translate(1501.2 851.4)" clip-path="url(#cp)">
<rect width="246.6" height="246.6" fill="#000"/>
<use href="#mrip" opacity="0.85"/>
<path d="M115.4 121.6 L112.48 134.29" stroke="#fff" stroke-width="3.6"/><path d="M110.8 141.6 L108.1 133.28 L116.87 135.3 Z" fill="#fff"/>
<text x="121.5" y="27.3" font-size="29.5" text-anchor="middle" fill="#fff">MRIP<tspan font-size="19" dy="-11.5">-/-</tspan><tspan dy="11.5"> YFP Col I</tspan></text>
<text x="3.2" y="241" font-size="30" fill="#fff">ii</text>
</g>
<g transform="translate(1753 851.4)" clip-path="url(#cp)">
<rect width="246.6" height="246.6" fill="#000"/>
<use href="#mrip" opacity="0.75"/>
<path d="M115.4 121.6 L112.48 134.29" stroke="#fff" stroke-width="3.6"/><path d="M110.8 141.6 L108.1 133.28 L116.87 135.3 Z" fill="#fff"/>
<text x="124.7" y="27.3" font-size="29.5" text-anchor="middle" fill="#fff">MRIP<tspan font-size="19" dy="-11.5">-/-</tspan><tspan dy="11.5"> YFP Col I</tspan></text>
<text x="3.2" y="239.8" font-size="30" fill="#fff">iii</text>
</g>
<g transform="translate(2004.8 851.4)" clip-path="url(#cp)">
<rect width="246.6" height="246.6" fill="#000"/>
<use href="#mrip" opacity="0.68"/>
<path d="M115.4 121.6 L112.48 134.29" stroke="#fff" stroke-width="3.6"/><path d="M110.8 141.6 L108.1 133.28 L116.87 135.3 Z" fill="#fff"/>
<text x="121" y="27.3" font-size="29.5" text-anchor="middle" fill="#fff">MRIP<tspan font-size="19" dy="-11.5">-/-</tspan><tspan dy="11.5"> YFP Col I</tspan></text>
<text x="3.2" y="239.8" font-size="30" fill="#fff">iv</text>
</g>
</g>
<g id="pDE">
<text x="358.5" y="739" font-size="47.33" font-family='"Liberation Serif", serif' font-weight="bold" textLength="23.5" lengthAdjust="spacingAndGlyphs">D</text>
<text x="773.5" y="739" font-size="47.33" font-family='"Liberation Serif", serif' font-weight="bold" textLength="23.5" lengthAdjust="spacingAndGlyphs">E</text>
<path d="M463.7 1061.6 V910.45 H509.3 V1061.6" fill="none" stroke="#111" stroke-width="4.4"/>
<path d="M537.5 1061.6 V968.41 H583.1 V1061.6" fill="none" stroke="#65503c" stroke-width="4.4"/>
<path d="M611.4 1061.6 V974.28 H657 V1061.6" fill="none" stroke="#0d558c" stroke-width="4.4"/>
<path d="M685.6 1061.6 V874.49 H731.2 V1061.6" fill="none" stroke="#e43a3a" stroke-width="4.4"/>
<circle cx="486.92" cy="819.19" r="9" fill="#111"/>
<circle cx="481.56" cy="843.12" r="9" fill="#111"/>
<circle cx="492.07" cy="859.89" r="9" fill="#111"/>
<circle cx="471.27" cy="886.73" r="9" fill="#111"/>
<circle cx="502.58" cy="885.61" r="9" fill="#111"/>
<circle cx="490.95" cy="899.7" r="9" fill="#111"/>
<circle cx="471.94" cy="909.09" r="9" fill="#111"/>
<circle cx="502.58" cy="910.21" r="9" fill="#111"/>
<circle cx="490.95" cy="918.04" r="9" fill="#111"/>
<circle cx="481.56" cy="933.69" r="9" fill="#111"/>
<circle cx="502.58" cy="940.4" r="9" fill="#111"/>
<circle cx="492.07" cy="948.23" r="9" fill="#111"/>
<circle cx="486.92" cy="971.71" r="9" fill="#111"/>
<circle cx="486.92" cy="990.72" r="9" fill="#111"/>
<circle cx="486.92" cy="1009.73" r="9" fill="#111"/>
<rect x="551.72" y="871.02" width="18" height="18" fill="#ffb05a"/>
<rect x="551.72" y="913.51" width="18" height="18" fill="#ffb05a"/>
<rect x="535.62" y="917.98" width="18" height="18" fill="#ffb05a"/>
<rect x="566.93" y="932.97" width="18" height="18" fill="#ffb05a"/>
<rect x="566.93" y="959.35" width="18" height="18" fill="#ffb05a"/>
<rect x="535.62" y="973.89" width="18" height="18" fill="#ffb05a"/>
<rect x="566.93" y="981.72" width="18" height="18" fill="#ffb05a"/>
<rect x="551.72" y="986.19" width="18" height="18" fill="#ffb05a"/>
<rect x="559.1" y="1016.38" width="18" height="18" fill="#ffb05a"/>
<rect x="544.57" y="1021.3" width="18" height="18" fill="#ffb05a"/>
<path d="M634.07 851.85 l9.5 17.48 h-19z" fill="#a9c3df"/>
<path d="M634.07 920.72 l9.5 17.48 h-19z" fill="#a9c3df"/>
<path d="M626.24 938.61 l9.5 17.48 h-19z" fill="#a9c3df"/>
<path d="M649.73 943.09 l9.5 17.48 h-19z" fill="#a9c3df"/>
<path d="M626.24 958.74 l9.5 17.48 h-19z" fill="#a9c3df"/>
<path d="M618.42 965.45 l9.5 17.48 h-19z" fill="#a9c3df"/>
<path d="M641.9 968.8 l9.5 17.48 h-19z" fill="#a9c3df"/>
<path d="M649.73 967.69 l9.5 17.48 h-19z" fill="#a9c3df"/>
<path d="M626.24 981.1 l9.5 17.48 h-19z" fill="#a9c3df"/>
<path d="M641.9 992.28 l9.5 17.48 h-19z" fill="#a9c3df"/>
<path d="M618.42 1007.94 l9.5 17.48 h-19z" fill="#a9c3df"/>
<path d="M634.07 1000.11 l9.5 17.48 h-19z" fill="#a9c3df"/>
<path d="M649.73 1007.94 l9.5 17.48 h-19z" fill="#a9c3df"/>
<path d="M692.22 789.4 l9 9 l-9 9 l-9 -9z" fill="#ff201c"/>
<path d="M723.52 775.53 l9 9 l-9 9 l-9 -9z" fill="#ff201c"/>
<path d="M707.87 858.27 l9 9 l-9 9 l-9 -9z" fill="#ff201c"/>
<path d="M707.87 882.65 l9 9 l-9 9 l-9 -9z" fill="#ff201c"/>
<path d="M723.52 932.97 l9 9 l-9 9 l-9 -9z" fill="#ff201c"/>
<path d="M692.22 943.7 l9 9 l-9 9 l-9 -9z" fill="#ff201c"/>
<path d="M472.5 860 H500.5 M472.5 962 H500.5 M486.5 860 V962" fill="none" stroke="#111" stroke-width="4.4" stroke-linecap="round"/>
<path d="M546.3 918 H574.3 M546.3 1014 H574.3 M560.3 918 V1014" fill="none" stroke="#65503c" stroke-width="4.4" stroke-linecap="round"/>
<path d="M620.2 930.8 H648.2 M620.2 1012 H648.2 M634.2 930.8 V1012" fill="none" stroke="#0d558c" stroke-width="4.4" stroke-linecap="round"/>
<path d="M694.4 802 H722.4 M694.4 942 H722.4 M708.4 802 V942" fill="none" stroke="#ff201c" stroke-width="4.4" stroke-linecap="round"/>
<line x1="448.9" y1="766" x2="448.9" y2="1063.7" stroke="#000" stroke-width="4.2"/>
<line x1="446.8" y1="1061.6" x2="745" y2="1061.6" stroke="#000" stroke-width="4.2"/>
<line x1="441.9" y1="1061.6" x2="448.9" y2="1061.6" stroke="#000" stroke-width="4.2"/>
<text x="439.9" y="1071.1" font-size="23" text-anchor="end">0</text>
<line x1="441.9" y1="988.22" x2="448.9" y2="988.22" stroke="#000" stroke-width="4.2"/>
<text x="439.9" y="997.72" font-size="23" text-anchor="end">10</text>
<line x1="441.9" y1="914.85" x2="448.9" y2="914.85" stroke="#000" stroke-width="4.2"/>
<text x="439.9" y="924.35" font-size="23" text-anchor="end">20</text>
<line x1="441.9" y1="841.48" x2="448.9" y2="841.48" stroke="#000" stroke-width="4.2"/>
<text x="439.9" y="850.98" font-size="23" text-anchor="end">30</text>
<line x1="441.9" y1="768.1" x2="448.9" y2="768.1" stroke="#000" stroke-width="4.2"/>
<text x="439.9" y="777.6" font-size="23" text-anchor="end">40</text>
<line x1="486.5" y1="1061.6" x2="486.5" y2="1069.6" stroke="#000" stroke-width="4.2"/>
<text transform="translate(493 1095.1) rotate(-45)" font-size="28" text-anchor="end">YFP Col I</text>
<line x1="560.3" y1="1061.6" x2="560.3" y2="1069.6" stroke="#000" stroke-width="4.2"/>
<text transform="translate(566.8 1095.1) rotate(-45)" font-size="28" text-anchor="end">YFP FN</text>
<line x1="634.2" y1="1061.6" x2="634.2" y2="1069.6" stroke="#000" stroke-width="4.2"/>
<text transform="translate(640.7 1095.1) rotate(-45)" font-size="28" text-anchor="end">YFP<tspan font-size="21" dy="-6">K653A</tspan><tspan dy="6"> Col I</tspan></text>
<line x1="708.4" y1="1061.6" x2="708.4" y2="1069.6" stroke="#000" stroke-width="4.2"/>
<text transform="translate(714.9 1095.1) rotate(-45)" font-size="28" text-anchor="end">MRIP<tspan font-size="23" dy="-6">-/-</tspan><tspan dy="6"> YFP Col I</tspan></text>
<text x="593.8" y="751" font-size="30" text-anchor="middle">Half-life recovery</text>
<text transform="translate(391.5 911) rotate(-90)" font-size="27" text-anchor="middle">Half-life time t<tspan font-size="17" dy="5">1/2</tspan><tspan dy="-5"> [s]</tspan></text>
<text x="560.72" y="825.68" font-size="25" text-anchor="middle">++</text>
<text x="559.16" y="854.97" font-size="32" text-anchor="middle">**</text>
<text x="634.07" y="812.26" font-size="25" text-anchor="middle">++</text>
<text x="634.07" y="840.89" font-size="32" text-anchor="middle">**</text>
<path d="M863.7 1065 V947.65 H909.3 V1065" fill="none" stroke="#111" stroke-width="4.4"/>
<path d="M937 1065 V918.13 H982.6 V1065" fill="none" stroke="#65503c" stroke-width="4.4"/>
<path d="M1010.7 1065 V909.94 H1056.3 V1065" fill="none" stroke="#0d558c" stroke-width="4.4"/>
<path d="M1084.5 1065 V982.73 H1130.1 V1065" fill="none" stroke="#e43a3a" stroke-width="4.4"/>
<circle cx="886.48" cy="887.4" r="9" fill="#111"/>
<circle cx="881.56" cy="901.27" r="9" fill="#111"/>
<circle cx="892.07" cy="901.94" r="9" fill="#111"/>
<circle cx="870.82" cy="935.26" r="9" fill="#111"/>
<circle cx="902.58" cy="932.57" r="9" fill="#111"/>
<circle cx="883.12" cy="933.69" r="9" fill="#111"/>
<circle cx="870.38" cy="945.54" r="9" fill="#111"/>
<circle cx="879.77" cy="944.87" r="9" fill="#111"/>
<circle cx="889.38" cy="945.99" r="9" fill="#111"/>
<circle cx="899.22" cy="944.87" r="9" fill="#111"/>
<circle cx="902.8" cy="948.23" r="9" fill="#111"/>
<circle cx="870.82" cy="955.38" r="9" fill="#111"/>
<circle cx="880.89" cy="954.94" r="9" fill="#111"/>
<circle cx="894.3" cy="954.94" r="9" fill="#111"/>
<circle cx="902.58" cy="955.38" r="9" fill="#111"/>
<circle cx="878.65" cy="976.18" r="9" fill="#111"/>
<circle cx="897.66" cy="974.62" r="9" fill="#111"/>
<circle cx="874.18" cy="984.46" r="9" fill="#111"/>
<circle cx="889.83" cy="985.8" r="9" fill="#111"/>
<rect x="944.57" y="817.8" width="18" height="18" fill="#ffb05a"/>
<rect x="956.42" y="817.8" width="18" height="18" fill="#ffb05a"/>
<rect x="934.5" y="895.62" width="18" height="18" fill="#ffb05a"/>
<rect x="956.42" y="901.21" width="18" height="18" fill="#ffb05a"/>
<rect x="965.81" y="906.13" width="18" height="18" fill="#ffb05a"/>
<rect x="945.01" y="912.39" width="18" height="18" fill="#ffb05a"/>
<rect x="940.09" y="969.42" width="18" height="18" fill="#ffb05a"/>
<rect x="951.27" y="962.71" width="18" height="18" fill="#ffb05a"/>
<rect x="961.34" y="969.42" width="18" height="18" fill="#ffb05a"/>
<path d="M1037.43 830.15 l9.5 17.48 h-19z" fill="#a9c3df"/>
<path d="M1029.6 836.86 l9.5 17.48 h-19z" fill="#a9c3df"/>
<path d="M1037.43 859.23 l9.5 17.48 h-19z" fill="#a9c3df"/>
<path d="M1029.6 871.97 l9.5 17.48 h-19z" fill="#a9c3df"/>
<path d="M1017.3 898.36 l9.5 17.48 h-19z" fill="#a9c3df"/>
<path d="M1026.24 899.48 l9.5 17.48 h-19z" fill="#a9c3df"/>
<path d="M1041.9 899.48 l9.5 17.48 h-19z" fill="#a9c3df"/>
<path d="M1049.73 893.89 l9.5 17.48 h-19z" fill="#a9c3df"/>
<path d="M1026.24 919.61 l9.5 17.48 h-19z" fill="#a9c3df"/>
<path d="M1040.78 922.96 l9.5 17.48 h-19z" fill="#a9c3df"/>
<path d="M1037.43 950.91 l9.5 17.48 h-19z" fill="#a9c3df"/>
<path d="M1028.93 959.86 l9.5 17.48 h-19z" fill="#a9c3df"/>
<path d="M1091.1 915.08 l9 9 l-9 9 l-9 -9z" fill="#ff201c"/>
<path d="M1122.85 919.1 l9 9 l-9 9 l-9 -9z" fill="#ff201c"/>
<path d="M1107.42 973.22 l9 9 l-9 9 l-9 -9z" fill="#ff201c"/>
<path d="M1091.1 993.35 l9 9 l-9 9 l-9 -9z" fill="#ff201c"/>
<path d="M1122.85 1005.2 l9 9 l-9 9 l-9 -9z" fill="#ff201c"/>
<path d="M1091.1 1018.62 l9 9 l-9 9 l-9 -9z" fill="#ff201c"/>
<path d="M872.5 917.4 H900.5 M872.5 968 H900.5 M886.5 917.4 V968" fill="none" stroke="#111" stroke-width="4.4" stroke-linecap="round"/>
<path d="M945.8 856.5 H973.8 M945.8 973.3 H973.8 M959.8 856.5 V973.3" fill="none" stroke="#65503c" stroke-width="4.4" stroke-linecap="round"/>
<path d="M1019.5 867.7 H1047.5 M1019.5 946 H1047.5 M1033.5 867.7 V946" fill="none" stroke="#0d558c" stroke-width="4.4" stroke-linecap="round"/>
<path d="M1093.3 935.5 H1121.3 M1093.3 1023.6 H1121.3 M1107.3 935.5 V1023.6" fill="none" stroke="#ff201c" stroke-width="4.4" stroke-linecap="round"/>
<line x1="848.5" y1="770.6" x2="848.5" y2="1067.1" stroke="#000" stroke-width="4.2"/>
<line x1="846.4" y1="1065" x2="1144" y2="1065" stroke="#000" stroke-width="4.2"/>
<line x1="841.5" y1="1065" x2="848.5" y2="1065" stroke="#000" stroke-width="4.2"/>
<text x="839.5" y="1074.5" font-size="23" text-anchor="end">0</text>
<line x1="841.5" y1="1006.54" x2="848.5" y2="1006.54" stroke="#000" stroke-width="4.2"/>
<text x="839.5" y="1016.04" font-size="23" text-anchor="end">20</text>
<line x1="841.5" y1="948.08" x2="848.5" y2="948.08" stroke="#000" stroke-width="4.2"/>
<text x="839.5" y="957.58" font-size="23" text-anchor="end">40</text>
<line x1="841.5" y1="889.62" x2="848.5" y2="889.62" stroke="#000" stroke-width="4.2"/>
<text x="839.5" y="899.12" font-size="23" text-anchor="end">60</text>
<line x1="841.5" y1="831.16" x2="848.5" y2="831.16" stroke="#000" stroke-width="4.2"/>
<text x="839.5" y="840.66" font-size="23" text-anchor="end">80</text>
<line x1="841.5" y1="772.7" x2="848.5" y2="772.7" stroke="#000" stroke-width="4.2"/>
<text x="839.5" y="782.2" font-size="23" text-anchor="end">100</text>
<line x1="886.5" y1="1065" x2="886.5" y2="1073" stroke="#000" stroke-width="4.2"/>
<text transform="translate(893 1098.5) rotate(-45)" font-size="28" text-anchor="end">YFP Col I</text>
<line x1="959.8" y1="1065" x2="959.8" y2="1073" stroke="#000" stroke-width="4.2"/>
<text transform="translate(966.3 1098.5) rotate(-45)" font-size="28" text-anchor="end">YFP FN</text>
<line x1="1033.5" y1="1065" x2="1033.5" y2="1073" stroke="#000" stroke-width="4.2"/>
<text transform="translate(1040 1098.5) rotate(-45)" font-size="28" text-anchor="end">YFP<tspan font-size="21" dy="-6">K653A</tspan><tspan dy="6"> Col I</tspan></text>
<line x1="1107.3" y1="1065" x2="1107.3" y2="1073" stroke="#000" stroke-width="4.2"/>
<text transform="translate(1113.8 1098.5) rotate(-45)" font-size="28" text-anchor="end">MRIP<tspan font-size="23" dy="-6">-/-</tspan><tspan dy="6"> YFP Col I</tspan></text>
<text x="979.8" y="750.5" font-size="30" text-anchor="middle">Mobile fraction</text>
<text transform="translate(773 914.5) rotate(-90)" font-size="27" text-anchor="middle">Mobile fraction (%)</text>
<text x="960.72" y="787.66" font-size="25" text-anchor="middle">++</text>
<text x="1034.07" y="791.69" font-size="25" text-anchor="middle">++</text>
</g>
<g id="pG">
<defs><clipPath id="cpg"><rect width="302.2" height="302.4"/></clipPath>
<radialGradient id="cg1" cx="152" cy="143" r="38" gradientUnits="userSpaceOnUse"><stop offset="0" stop-color="#0a7c7e"/><stop offset="0.6" stop-color="#096c6e"/><stop offset="1" stop-color="#085a5c" stop-opacity="0.5"/></radialGradient><radialGradient id="cg2" cx="152" cy="145" r="40" gradientUnits="userSpaceOnUse"><stop offset="0" stop-color="#10b4b4"/><stop offset="0.55" stop-color="#0ea0a0"/><stop offset="1" stop-color="#0a6a6c" stop-opacity="0.4"/></radialGradient><filter id="gc" x="-10%" y="-10%" width="120%" height="120%" color-interpolation-filters="sRGB"><feGaussianBlur in="SourceGraphic" stdDeviation="3" result="b"/><feTurbulence type="fractalNoise" baseFrequency="0.22" numOctaves="3" seed="12" result="n"/><feColorMatrix in="n" type="matrix" values="0 0 0 0 0 0 0 0 0 0 0 0 0 0 0 2.0 0 0 0 -0.45" result="na"/><feComposite in="b" in2="na" operator="in"/></filter>
<linearGradient id="cb" x1="0" y1="0" x2="0" y2="1"><stop offset="0" stop-color="#ff1496"/><stop offset="0.1" stop-color="#ff1030"/><stop offset="0.22" stop-color="#ff5a08"/><stop offset="0.36" stop-color="#c8880c"/><stop offset="0.44" stop-color="#8c8c10"/><stop offset="0.5" stop-color="#0c8c14"/><stop offset="0.62" stop-color="#0c8c28"/><stop offset="0.72" stop-color="#10808c"/><stop offset="0.82" stop-color="#2858c8"/><stop offset="0.92" stop-color="#6428b4"/><stop offset="1" stop-color="#5a0878"/></linearGradient></defs>
<text x="610" y="1303" font-size="48.09" font-family='"Liberation Serif", serif' font-weight="bold" textLength="24.5" lengthAdjust="spacingAndGlyphs">G</text>
<g transform="translate(653 1338.8)" clip-path="url(#cpg)">
<rect width="302.2" height="301.2" fill="#000"/>
<g filter="url(#gc)"><path d="M162.94 109.33C165.93 109.85 167.23 121.04 169.19 124.95C171.14 128.86 172.57 130.55 174.66 132.76C176.74 134.98 181.56 135.11 181.69 138.23C181.82 141.36 177.13 146.82 175.44 151.51C173.74 156.2 174.4 162.06 171.53 166.36C168.67 170.65 162.29 176.77 158.25 177.29C154.21 177.81 151.74 171.82 147.31 169.48C142.89 167.14 137.29 163.43 131.69 163.23C126.09 163.04 115.02 169.61 113.72 168.31C112.42 167.01 120.62 159.26 123.88 155.42C127.13 151.58 130.65 149.56 133.25 145.26C135.85 140.97 136.51 133.54 139.5 129.64C142.49 125.73 147.31 125.21 151.22 121.83C155.12 118.44 159.94 108.8 162.94 109.33Z" fill="url(#cg1)"/></g>
<text x="147" y="33.5" font-size="36" text-anchor="middle" fill="#fff">Donor</text>
<text transform="translate(33.5 152.5) rotate(-90)" font-size="36" text-anchor="middle" fill="#fff">Pre-bleach</text>
</g>
<g transform="translate(963.6 1338.8)" clip-path="url(#cpg)">
<rect width="302.2" height="301.2" fill="#000"/>
<g filter="url(#gr)" opacity="0.42"><ellipse cx="156.87" cy="148.39" rx="21" ry="19" fill="#6a6a0c"/></g>
<g stroke="#f8f010" stroke-linecap="round" stroke-linejoin="round" fill="none" filter="url(#bl)">
<path d="M110.38 144.09 L120.15 153.07 L124.84 157.37 L120.15 164.01 L109.99 167.14" stroke-width="3.9" opacity="1"/>
<path d="M124.84 157.37 L131.09 153.86 L134.21 148.78" stroke-width="3.7" opacity="1"/>
<path d="M124.84 157.37 L131.09 160.11 L135.38 158.93" stroke-width="4.7" opacity="0.95"/>
<path d="M131.09 156.2 L134.21 156.2" stroke-width="5.1" opacity="0.8"/>
<path d="M143.59 167.14 L149.06 166.75 L152.57 169.48 L155.7 176.9" stroke-width="4.2" opacity="1"/>
<path d="M164.68 160.89 L164.84 161.04" stroke-width="5.4" opacity="1"/>
<path d="M167.81 167.53 L174.84 162.45 L181.09 157.76 L186.56 156.2 L186.95 159.32" stroke-width="3.6" opacity="1"/>
<path d="M150.23 108.93 L150.46 109.72" stroke-width="3.6" opacity="0.9"/>
<path d="M157.65 105.03 L157.73 105.11" stroke-width="2.5" opacity="0.6"/>
<path d="M161.17 108.7 L163.9 112.45 L165.31 116.75" stroke-width="3.2" opacity="0.9"/>
<path d="M142.03 128.7 L142.18 129.01" stroke-width="3.7" opacity="0.85"/>
<path d="M177.81 135.89 L178.35 138.62" stroke-width="3.6" opacity="0.9"/>
<path d="M125.46 135.5 L125.54 135.57" stroke-width="2.5" opacity="0.3"/>
<path d="M156.87 209.95 L156.95 210.03" stroke-width="1.4" opacity="0.4"/>
<path d="M152.57 209.32 L152.65 209.4" stroke-width="1.2" opacity="0.3"/>
<path d="M163.9 212.45 L163.98 212.53" stroke-width="1.2" opacity="0.3"/>
</g>
<text x="152.5" y="28.5" font-size="36" text-anchor="middle" fill="#fff">Acceptor</text>
<path d="M127.3 206.2 L126.74 180.8" stroke="#fff" stroke-width="2.4"/><path d="M126.4 165.6 L135.53 180.6 L117.94 180.99 Z" fill="#fff"/>
</g>
<g transform="translate(653 1649)" clip-path="url(#cpg)">
<rect width="302.2" height="302.4" fill="#000"/>
<g filter="url(#gc)"><path d="M162.16 108.54C165.67 111.02 168.02 117.27 170.75 121.83C173.48 126.38 175.96 130.16 178.56 135.89C181.17 141.62 186.9 151.51 186.38 156.2C185.85 160.89 178.3 161.15 175.44 164.01C172.57 166.88 172.18 170.26 169.19 173.39C166.19 176.51 161.38 182.5 157.47 182.76C153.56 183.02 150.05 177.29 145.75 174.95C141.45 172.61 136.9 169.74 131.69 168.7C126.48 167.66 116.32 170.52 114.5 168.7C112.68 166.88 120.75 161.28 120.75 157.76C120.75 154.25 113.46 152.03 114.5 147.61C115.54 143.18 123.35 136.15 127 131.2C130.65 126.25 132.6 121.96 136.38 117.92C140.15 113.88 145.36 108.54 149.66 106.98C153.95 105.42 158.64 106.07 162.16 108.54Z" fill="url(#cg2)"/></g>
<text x="147" y="34.5" font-size="36" text-anchor="middle" fill="#fff">Donor</text>
<text transform="translate(33.5 155.5) rotate(-90)" font-size="36" text-anchor="middle" fill="#fff">Post-bleach</text>
</g>
<g transform="translate(963.6 1649)" clip-path="url(#cpg)">
<rect width="302.2" height="302.4" fill="#000"/>
<g filter="url(#gr)" opacity="0.5"><ellipse cx="156.87" cy="148.39" rx="21" ry="19" fill="#6a6a0c"/></g>
<g stroke="#f8f010" stroke-linecap="round" stroke-linejoin="round" fill="none" filter="url(#bl)">
<path d="M110.78 144.87 L118.2 151.12" stroke-width="3.4" opacity="0.7"/>
<path d="M108.82 167.76 L118.2 166.2" stroke-width="3.1" opacity="0.8"/>
<path d="M133.82 149.17 L132.26 151.51" stroke-width="3.6" opacity="0.75"/>
<path d="M133.82 158.15 L134.99 160.89" stroke-width="3.1" opacity="0.45"/>
<path d="M106.09 139.4 L107.26 140.57" stroke-width="2" opacity="0.3"/>
<path d="M143.59 167.14 L149.06 166.75 L152.57 169.48 L155.7 176.9" stroke-width="4.2" opacity="1"/>
<path d="M164.68 160.89 L164.84 161.04" stroke-width="5.4" opacity="1"/>
<path d="M167.81 167.53 L174.84 162.45 L181.09 157.76 L186.56 156.2 L186.95 159.32" stroke-width="3.6" opacity="1"/>
<path d="M150.23 108.93 L150.46 109.72" stroke-width="3.6" opacity="0.9"/>
<path d="M157.65 105.03 L157.73 105.11" stroke-width="2.5" opacity="0.6"/>
<path d="M161.17 108.7 L163.9 112.45 L165.31 116.75" stroke-width="3.2" opacity="0.9"/>
<path d="M142.03 128.7 L142.18 129.01" stroke-width="3.7" opacity="0.85"/>
<path d="M177.81 135.89 L178.35 138.62" stroke-width="3.6" opacity="0.9"/>
<path d="M125.46 135.5 L125.54 135.57" stroke-width="2.5" opacity="0.3"/>
<path d="M156.87 209.95 L156.95 210.03" stroke-width="1.4" opacity="0.4"/>
<path d="M152.57 209.32 L152.65 209.4" stroke-width="1.2" opacity="0.3"/>
<path d="M163.9 212.45 L163.98 212.53" stroke-width="1.2" opacity="0.3"/>
</g>
<text x="152.5" y="33.5" font-size="36" text-anchor="middle" fill="#fff">Acceptor</text>
<path d="M127.3 209.5 L126.74 184.7" stroke="#fff" stroke-width="2.4"/><path d="M126.4 169.5 L135.54 184.5 L117.94 184.89 Z" fill="#fff"/>
</g>
<g transform="translate(1273 1496)">
<rect width="302" height="302.5" fill="#5a0060"/>
<rect x="153.94" y="153.42" width="4" height="1" fill="#e08a10"/>
<rect x="154.02" y="147.37" width="3" height="1.5" fill="#1e9a30"/>
<rect x="148.44" y="133.72" width="2.5" height="3" fill="#e4a018"/>
<rect x="159.86" y="143.51" width="2.5" height="1" fill="#2a6ab8"/>
<rect x="153.99" y="157.55" width="2.5" height="2.5" fill="#1e9a30"/>
<rect x="156.81" y="144.55" width="4" height="2" fill="#e08a10"/>
<rect x="173.44" y="144.99" width="2.5" height="1" fill="#b09018"/>
<rect x="159.44" y="148.85" width="1.5" height="1" fill="#2a6ab8"/>
<rect x="164.15" y="140.25" width="1.5" height="3" fill="#e08a10"/>
<rect x="156.11" y="145.74" width="1" height="2.5" fill="#1a8a6a"/>
<rect x="158.5" y="163.29" width="4" height="3" fill="#2a6ab8"/>
<rect x="151.75" y="152.33" width="2" height="2.5" fill="#d87810"/>
<rect x="159.92" y="158.34" width="2" height="2" fill="#b09018"/>
<rect x="162.21" y="136.95" width="3" height="3" fill="#e4a018"/>
<rect x="150.66" y="152.98" width="4" height="1" fill="#c86a14"/>
<rect x="164.06" y="141.03" width="3" height="1.5" fill="#1e9a30"/>
<rect x="153.45" y="159.57" width="2" height="1" fill="#1e9a30"/>
<rect x="152.97" y="147.02" width="2" height="2.5" fill="#d87810"/>
<rect x="144.81" y="124.54" width="1" height="1.5" fill="#d87810"/>
<rect x="146.85" y="167.88" width="1" height="2.5" fill="#1e9a30"/>
<rect x="170.04" y="120.97" width="1.5" height="2.5" fill="#e03030"/>
<rect x="141.95" y="150.51" width="2.5" height="1" fill="#e03030"/>
<rect x="153.63" y="146.34" width="4" height="1" fill="#c86a14"/>
<rect x="153.75" y="145.35" width="1.5" height="3" fill="#2a6ab8"/>
<rect x="155.81" y="140.87" width="1" height="1.5" fill="#1e9a30"/>
<rect x="152.56" y="146.44" width="3" height="1" fill="#1a8a6a"/>
<rect x="151.29" y="152.16" width="4" height="2.5" fill="#e4a018"/>
<rect x="163.11" y="150.69" width="3" height="1" fill="#e03030"/>
<rect x="156.35" y="153.27" width="1" height="1" fill="#e4a018"/>
<rect x="147.84" y="137.73" width="2.5" height="2.5" fill="#d87810"/>
<rect x="141.32" y="158.52" width="4" height="1.5" fill="#1a8a6a"/>
<rect x="141.01" y="151.55" width="4" height="1" fill="#1a8a6a"/>
<rect x="176.58" y="135.07" width="2.5" height="1.5" fill="#e08a10"/>
<rect x="155.99" y="156.1" width="2.5" height="1" fill="#e08a10"/>
<rect x="157.19" y="165.52" width="1" height="2" fill="#1e9a30"/>
<rect x="156.51" y="145.9" width="4" height="3" fill="#c86a14"/>
<rect x="162.79" y="131.58" width="2" height="3" fill="#1e9a30"/>
<rect x="156.76" y="138.65" width="4" height="1.5" fill="#e08a10"/>
<rect x="152.63" y="147.69" width="2" height="2.5" fill="#e4a018"/>
<rect x="153.62" y="141.71" width="1" height="3" fill="#1e9a30"/>
<rect x="177.59" y="142.5" width="2" height="3" fill="#d08c14"/>
<rect x="141.19" y="127.67" width="2" height="2" fill="#b09018"/>
<rect x="159.33" y="142.06" width="3" height="2" fill="#e4a018"/>
<rect x="150.08" y="159.02" width="3" height="2.5" fill="#b09018"/>
<rect x="152.67" y="145.25" width="4" height="3" fill="#e03030"/>
<rect x="145.74" y="155.88" width="2.5" height="1.5" fill="#2a6ab8"/>
<rect x="159.34" y="140.49" width="1.5" height="1" fill="#2a6ab8"/>
<rect x="156.97" y="145.72" width="2" height="2.5" fill="#e08a10"/>
<rect x="144.87" y="132.03" width="2" height="3" fill="#d08c14"/>
<rect x="164.89" y="138.28" width="1.5" height="3" fill="#1a8a6a"/>
<rect x="150.83" y="147.93" width="1.5" height="3" fill="#c86a14"/>
<rect x="164.24" y="130.68" width="1" height="2.5" fill="#e08a10"/>
<rect x="147.71" y="130.23" width="3" height="2.5" fill="#e08a10"/>
<rect x="159.6" y="133.04" width="4" height="2" fill="#e08a10"/>
<rect x="164.01" y="154.72" width="2.5" height="2" fill="#e03030"/>
<rect x="169.76" y="158.78" width="4" height="1" fill="#1e9a30"/>
<rect x="161.04" y="128.08" width="1" height="1.5" fill="#b09018"/>
<rect x="158.7" y="140.48" width="1.5" height="1" fill="#e03030"/>
<rect x="157.04" y="145.82" width="1.5" height="2" fill="#1a8a6a"/>
<rect x="148.49" y="152.52" width="1" height="3" fill="#1e9a30"/>
<rect x="140.38" y="152.37" width="1.5" height="2" fill="#1e9a30"/>
<rect x="153.39" y="146.61" width="3" height="1.5" fill="#e08a10"/>
<rect x="151.75" y="151.2" width="1.5" height="2" fill="#1a8a6a"/>
<rect x="154.31" y="150.56" width="4" height="1.5" fill="#d87810"/>
<rect x="155.62" y="145.38" width="2" height="2" fill="#e4a018"/>
<rect x="155.58" y="127.14" width="1" height="1.5" fill="#1a8a6a"/>
<rect x="154.47" y="147.87" width="2" height="1.5" fill="#1e9a30"/>
<rect x="157.2" y="155.39" width="4" height="2.5" fill="#e03030"/>
<rect x="151.88" y="135.56" width="2" height="2.5" fill="#1e9a30"/>
<rect x="136.64" y="133.36" width="4" height="3" fill="#1a8a6a"/>
<rect x="139.48" y="147.32" width="2" height="3" fill="#d87810"/>
<rect x="150.76" y="152.69" width="1.5" height="2" fill="#2a6ab8"/>
<rect x="148.29" y="134.52" width="3" height="3" fill="#c86a14"/>
<rect x="152.23" y="149.57" width="1.5" height="2.5" fill="#b09018"/>
<rect x="141.82" y="148.69" width="2" height="2.5" fill="#e08a10"/>
<rect x="177.83" y="151.38" width="2" height="2.5" fill="#1a8a6a"/>
<rect x="178.97" y="150.46" width="1.5" height="1" fill="#e08a10"/>
<rect x="170.88" y="115.75" width="2.5" height="3" fill="#b09018"/>
<rect x="148.34" y="140.6" width="1" height="2" fill="#c86a14"/>
<rect x="171.61" y="150.3" width="2" height="1" fill="#1e9a30"/>
<rect x="150.47" y="135.56" width="2.5" height="1.5" fill="#b09018"/>
<rect x="153.7" y="155.03" width="2" height="2.5" fill="#1e9a30"/>
<rect x="156.59" y="135.75" width="4" height="1" fill="#1a8a6a"/>
<rect x="157.26" y="152.02" width="2" height="1" fill="#e08a10"/>
<rect x="182.28" y="138.35" width="3" height="2" fill="#2a6ab8"/>
<rect x="146.27" y="154.68" width="4" height="2" fill="#e08a10"/>
<rect x="157.85" y="141.36" width="4" height="2" fill="#e03030"/>
<rect x="152.87" y="135.05" width="2.5" height="2.5" fill="#2a6ab8"/>
<rect x="155.31" y="143.06" width="1" height="2.5" fill="#b09018"/>
<rect x="132.23" y="155.73" width="1" height="2" fill="#1a8a6a"/>
<rect x="136.27" y="128.45" width="2.5" height="2" fill="#2a6ab8"/>
<rect x="152.94" y="143.68" width="3" height="1.5" fill="#d87810"/>
<rect x="142.06" y="145.54" width="1" height="1" fill="#c86a14"/>
<rect x="157.14" y="145.43" width="4" height="2.5" fill="#d08c14"/>
<rect x="165.49" y="142.65" width="1.5" height="1" fill="#e08a10"/>
<rect x="158.69" y="146.46" width="2" height="1" fill="#e08a10"/>
<rect x="156.24" y="135.99" width="4" height="1.5" fill="#e03030"/>
<rect x="152.54" y="147.57" width="1.5" height="2" fill="#1e9a30"/>
<rect x="159.19" y="142.72" width="2.5" height="1.5" fill="#e08a10"/>
<rect x="161.4" y="140.54" width="1.5" height="2.5" fill="#1a8a6a"/>
<rect x="162.92" y="131.25" width="2.5" height="1" fill="#1e9a30"/>
<rect x="140.25" y="145.2" width="4" height="2" fill="#e03030"/>
<rect x="145.19" y="149.83" width="1" height="2" fill="#1e9a30"/>
<rect x="156.67" y="144.96" width="1" height="2.5" fill="#1e9a30"/>
<rect x="156.04" y="142.84" width="1.5" height="1" fill="#1e9a30"/>
<rect x="158.87" y="141.9" width="2" height="3" fill="#e08a10"/>
<rect x="144.49" y="152.6" width="1.5" height="1.5" fill="#e4a018"/>
<rect x="157.08" y="150.01" width="2.5" height="1.5" fill="#1a8a6a"/>
<rect x="153.8" y="159.18" width="3" height="3" fill="#b09018"/>
<rect x="149.41" y="146.1" width="2.5" height="3" fill="#1e9a30"/>
<rect x="149.08" y="137.65" width="1.5" height="3" fill="#1e9a30"/>
<rect x="149.57" y="138.85" width="1.5" height="3" fill="#e4a018"/>
<rect x="173.06" y="138.9" width="1.5" height="2" fill="#1a8a6a"/>
<rect x="159" y="153.25" width="2" height="1" fill="#2a6ab8"/>
<rect x="145.45" y="163.63" width="4" height="3" fill="#1e9a30"/>
<rect x="161.38" y="138" width="2" height="2.5" fill="#1e9a30"/>
<rect x="158.1" y="135.29" width="4" height="2.5" fill="#1e9a30"/>
<rect x="150.01" y="140.23" width="2.5" height="2" fill="#c86a14"/>
<rect x="153.18" y="125.48" width="1" height="1" fill="#1a8a6a"/>
<rect x="139.92" y="130.2" width="3" height="2" fill="#1e9a30"/>
<rect x="155.82" y="141.25" width="1.5" height="1" fill="#e08a10"/>
<rect x="161.2" y="145.96" width="2" height="1" fill="#c86a14"/>
<rect x="157.29" y="146.06" width="1" height="2" fill="#1e9a30"/>
<rect x="131.36" y="168.18" width="2" height="2.5" fill="#e03030"/>
<rect x="165.44" y="168.14" width="4" height="1" fill="#2a6ab8"/>
<rect x="157.7" y="144.68" width="3" height="1.5" fill="#c86a14"/>
<rect x="157.91" y="145.87" width="3" height="2.5" fill="#2a6ab8"/>
<rect x="152.72" y="145.27" width="4" height="1.5" fill="#e08a10"/>
<rect x="141.33" y="136.94" width="1.5" height="2" fill="#1a8a6a"/>
<rect x="148.87" y="163.11" width="3" height="2.5" fill="#e03030"/>
<rect x="160.6" y="153.81" width="4" height="2" fill="#1e9a30"/>
<rect x="153.45" y="145.24" width="4" height="2.5" fill="#e03030"/>
<rect x="165.38" y="143.23" width="4" height="2.5" fill="#2a6ab8"/>
<rect x="152.1" y="150.68" width="1.5" height="2.5" fill="#c86a14"/>
<rect x="174.07" y="156.75" width="1" height="1.5" fill="#1e9a30"/>
<rect x="160.75" y="152.63" width="1" height="1.5" fill="#d87810"/>
<rect x="156.18" y="141.28" width="1.5" height="2.5" fill="#e4a018"/>
<rect x="157.94" y="136.24" width="1" height="3" fill="#1e9a30"/>
<rect x="148.04" y="162.01" width="1" height="3" fill="#e08a10"/>
<rect x="150.64" y="147.01" width="2" height="2" fill="#1e9a30"/>
<rect x="174.2" y="133.04" width="2.5" height="3" fill="#2a6ab8"/>
<rect x="165.9" y="156.92" width="1.5" height="1" fill="#1e9a30"/>
<rect x="160.67" y="155.01" width="3" height="2.5" fill="#e03030"/>
<rect x="155.84" y="148.75" width="2.5" height="2.5" fill="#b09018"/>
<rect x="149.62" y="136.44" width="4" height="1.5" fill="#e4a018"/>
<rect x="134.92" y="153.71" width="2" height="3" fill="#c86a14"/>
<rect x="164.67" y="131.65" width="1.5" height="3" fill="#e08a10"/>
<rect x="166.65" y="120.23" width="2" height="2" fill="#e08a10"/>
<rect x="161.95" y="127.81" width="2.5" height="2" fill="#d87810"/>
<rect x="153.1" y="146.61" width="1" height="3" fill="#e08a10"/>
<rect x="160.67" y="142.98" width="1.5" height="1.5" fill="#2a6ab8"/>
<rect x="147.14" y="173.59" width="3" height="2.5" fill="#e08a10"/>
<rect x="151.86" y="146.52" width="2.5" height="2.5" fill="#1e9a30"/>
<rect x="150.51" y="150.89" width="4" height="1.5" fill="#d08c14"/>
<rect x="179.61" y="127.53" width="4" height="1" fill="#e08a10"/>
<rect x="149.68" y="142.66" width="3" height="2" fill="#b09018"/>
<rect x="154.17" y="135.04" width="4" height="2" fill="#e08a10"/>
<rect x="156.54" y="145.27" width="1.5" height="3" fill="#e08a10"/>
<rect x="153.26" y="144.73" width="1" height="1" fill="#1a8a6a"/>
<rect x="158.22" y="144.82" width="2" height="1.5" fill="#e4a018"/>
<rect x="164.03" y="127.9" width="3" height="3" fill="#1e9a30"/>
<rect x="167.7" y="126" width="1.5" height="1.5" fill="#c86a14"/>
<rect x="154.65" y="173.24" width="1" height="1.5" fill="#e08a10"/>
<rect x="165.65" y="158.55" width="2.5" height="2" fill="#d87810"/>
<rect x="156.34" y="146" width="2" height="2" fill="#c86a14"/>
<rect x="149.8" y="149.46" width="3" height="1.5" fill="#e03030"/>
<rect x="144.85" y="165.75" width="4" height="2" fill="#d87810"/>
<rect x="167.39" y="147.57" width="2" height="1" fill="#c86a14"/>
<rect x="184.75" y="155.09" width="3" height="1.5" fill="#d08c14"/>
<rect x="175.23" y="127.91" width="3" height="1.5" fill="#e08a10"/>
<rect x="162.55" y="159.33" width="3" height="1.5" fill="#1e9a30"/>
<rect x="152.4" y="150.7" width="4" height="2" fill="#1e9a30"/>
<rect x="162.74" y="145.01" width="4" height="1.5" fill="#1e9a30"/>
<rect x="138.29" y="151.96" width="3" height="1.5" fill="#c86a14"/>
<rect x="165.36" y="137.31" width="1" height="3" fill="#d08c14"/>
<rect x="168.15" y="142.51" width="4" height="1" fill="#d08c14"/>
<rect x="147.37" y="155.91" width="1" height="3" fill="#2a6ab8"/>
<rect x="156.89" y="145.65" width="4" height="3" fill="#c86a14"/>
<rect x="153.07" y="146.25" width="4" height="3" fill="#e08a10"/>
<rect x="157.02" y="145.98" width="2" height="3" fill="#b09018"/>
<rect x="155.17" y="159.42" width="1.5" height="2.5" fill="#2a6ab8"/>
<rect x="157.37" y="132.58" width="2.5" height="3" fill="#e03030"/>
<rect x="176.26" y="133.86" width="1" height="2.5" fill="#c86a14"/>
<rect x="148.13" y="157.48" width="2.5" height="3" fill="#1e9a30"/>
<rect x="145.29" y="135.88" width="4" height="1.5" fill="#e4a018"/>
<rect x="151.44" y="143.36" width="2.5" height="2.5" fill="#1e9a30"/>
<rect x="154.05" y="171.34" width="1" height="2" fill="#e4a018"/>
<rect x="146.81" y="150.02" width="3" height="2" fill="#2a6ab8"/>
<rect x="148.4" y="155.24" width="3" height="1.5" fill="#1e9a30"/>
<rect x="157.88" y="145.75" width="4" height="1.5" fill="#e4a018"/>
<rect x="159.5" y="165.09" width="2.5" height="3" fill="#c86a14"/>
<rect x="153.95" y="154.16" width="1" height="1.5" fill="#b09018"/>
<rect x="151.85" y="168.13" width="1" height="2" fill="#e08a10"/>
<rect x="153.77" y="142.91" width="3" height="3" fill="#d08c14"/>
<rect x="159.01" y="131.97" width="4" height="1.5" fill="#b09018"/>
<rect x="152.89" y="126.69" width="4" height="1" fill="#1e9a30"/>
<rect x="152.81" y="146.95" width="4" height="3" fill="#e08a10"/>
<rect x="161.95" y="140.41" width="4" height="1.5" fill="#1e9a30"/>
<rect x="167.76" y="146.69" width="2" height="2.5" fill="#e4a018"/>
<rect x="152.09" y="136.5" width="2" height="3" fill="#b09018"/>
<rect x="152.04" y="147.15" width="1.5" height="2" fill="#1e9a30"/>
<rect x="166.92" y="153.51" width="1.5" height="2" fill="#e4a018"/>
<rect x="156.2" y="132.7" width="1.5" height="2" fill="#1e9a30"/>
<rect x="162.9" y="139.95" width="2.5" height="1" fill="#e08a10"/>
<rect x="157.48" y="146.03" width="1.5" height="1.5" fill="#c86a14"/>
<rect x="155.57" y="148.31" width="1" height="2.5" fill="#e03030"/>
<rect x="141.25" y="130.04" width="2.5" height="1" fill="#e08a10"/>
<rect x="134.85" y="137.01" width="2" height="1" fill="#c86a14"/>
<rect x="166.67" y="140.59" width="2" height="2.5" fill="#c86a14"/>
<rect x="153.61" y="152.84" width="1" height="1" fill="#e4a018"/>
<rect x="147.39" y="148.59" width="3" height="2" fill="#1e9a30"/>
<rect x="156.69" y="143.83" width="4" height="1" fill="#d87810"/>
<rect x="155.43" y="140.28" width="4" height="2" fill="#2a6ab8"/>
<rect x="144.22" y="155.97" width="4" height="2.5" fill="#c86a14"/>
<rect x="161.75" y="151.08" width="2.5" height="2" fill="#d08c14"/>
<rect x="149.29" y="147.61" width="1" height="1.5" fill="#e08a10"/>
<rect x="151.28" y="168.42" width="1" height="1.5" fill="#e08a10"/>
<rect x="171.92" y="129.05" width="1" height="3" fill="#e4a018"/>
<rect x="148.88" y="144.54" width="2" height="3" fill="#1e9a30"/>
<rect x="152.05" y="149.12" width="1.5" height="3" fill="#2a6ab8"/>
<rect x="151.81" y="147.86" width="2.5" height="2" fill="#e08a10"/>
<rect x="153.17" y="115.45" width="1" height="1" fill="#1a8a6a"/>
<rect x="162.65" y="144.3" width="3" height="1.5" fill="#d87810"/>
<rect x="167.54" y="133.42" width="3" height="1" fill="#d87810"/>
<rect x="179.86" y="132.42" width="1.5" height="3" fill="#e4a018"/>
<rect x="154.29" y="139.06" width="2" height="2.5" fill="#e03030"/>
<rect x="169.98" y="130.3" width="1.5" height="3" fill="#e08a10"/>
<rect x="158.09" y="139.63" width="2.5" height="1" fill="#d87810"/>
<rect x="182" y="148" width="2.5" height="2" fill="#d88a12"/>
<rect x="185" y="146" width="2.5" height="2" fill="#d88a12"/>
<rect x="128" y="150" width="2.5" height="2" fill="#d88a12"/>
<rect x="131" y="152" width="2.5" height="2" fill="#d88a12"/>
<rect x="168" y="117" width="2.5" height="2" fill="#d88a12"/>
<rect x="170" y="120" width="2.5" height="2" fill="#d88a12"/>
<rect x="15.5" y="181.5" width="14" height="104" fill="url(#cb)"/>
<text x="27.5" y="187" font-size="15.5" fill="#fff">-0.78</text>
<text x="27.5" y="288.5" font-size="15.5" fill="#fff">-0</text>
<text x="109" y="31.5" font-size="36" fill="#fff">E<tspan font-size="21" dy="12">FRET</tspan></text>
</g>
</g>
<g id="pH">
<text x="1590.5" y="1302.3" font-size="46.26" font-family='"Liberation Serif", serif' font-weight="bold" textLength="23.5" lengthAdjust="spacingAndGlyphs">H</text>
<line x1="1715.6" y1="1318" x2="1715.6" y2="1689.5" stroke="#000" stroke-width="4.6"/>
<line x1="1713.3" y1="1687.2" x2="2184.5" y2="1687.2" stroke="#000" stroke-width="4.6"/>
<line x1="1707.1" y1="1687.2" x2="1715.6" y2="1687.2" stroke="#000" stroke-width="4.4"/>
<text x="1703.6" y="1697.7" font-size="29" text-anchor="end">0.0</text>
<line x1="1707.1" y1="1595.47" x2="1715.6" y2="1595.47" stroke="#000" stroke-width="4.4"/>
<text x="1703.6" y="1605.97" font-size="29" text-anchor="end">0.2</text>
<line x1="1707.1" y1="1503.75" x2="1715.6" y2="1503.75" stroke="#000" stroke-width="4.4"/>
<text x="1703.6" y="1514.25" font-size="29" text-anchor="end">0.4</text>
<line x1="1707.1" y1="1412.03" x2="1715.6" y2="1412.03" stroke="#000" stroke-width="4.4"/>
<text x="1703.6" y="1422.53" font-size="29" text-anchor="end">0.6</text>
<line x1="1707.1" y1="1320.3" x2="1715.6" y2="1320.3" stroke="#000" stroke-width="4.4"/>
<text x="1703.6" y="1330.8" font-size="29" text-anchor="end">0.8</text>
<path d="M1737.55 1687.2 V1554.1 H1810.45 V1687.2" fill="none" stroke="#111" stroke-width="4.6"/>
<path d="M1855.05 1687.2 V1625.5 H1927.95 V1687.2" fill="none" stroke="#65503c" stroke-width="4.6"/>
<path d="M1971.95 1687.2 V1629.3 H2044.85 V1687.2" fill="none" stroke="#0d558c" stroke-width="4.6"/>
<path d="M2089.05 1687.2 V1611.9 H2161.95 V1687.2" fill="none" stroke="#e43a3a" stroke-width="4.6"/>
<circle cx="1774.41" cy="1399.25" r="7.4" fill="#111"/>
<circle cx="1774.41" cy="1424.27" r="7.4" fill="#111"/>
<circle cx="1769.29" cy="1435.42" r="7.4" fill="#111"/>
<circle cx="1779.54" cy="1434.22" r="7.4" fill="#111"/>
<circle cx="1781.34" cy="1442.66" r="7.4" fill="#111"/>
<circle cx="1768.38" cy="1451.4" r="7.4" fill="#111"/>
<circle cx="1778.03" cy="1452.9" r="7.4" fill="#111"/>
<circle cx="1764.47" cy="1477.62" r="7.4" fill="#111"/>
<circle cx="1785.56" cy="1470.99" r="7.4" fill="#111"/>
<circle cx="1775.32" cy="1467.37" r="7.4" fill="#111"/>
<circle cx="1766.88" cy="1484.55" r="7.4" fill="#111"/>
<circle cx="1778.93" cy="1485.46" r="7.4" fill="#111"/>
<circle cx="1788.58" cy="1483.65" r="7.4" fill="#111"/>
<circle cx="1760.85" cy="1493.6" r="7.4" fill="#111"/>
<circle cx="1772.9" cy="1494.5" r="7.4" fill="#111"/>
<circle cx="1784.96" cy="1492.69" r="7.4" fill="#111"/>
<circle cx="1753.31" cy="1507.76" r="7.4" fill="#111"/>
<circle cx="1763.86" cy="1502.64" r="7.4" fill="#111"/>
<circle cx="1774.41" cy="1503.54" r="7.4" fill="#111"/>
<circle cx="1786.47" cy="1501.73" r="7.4" fill="#111"/>
<circle cx="1795.51" cy="1503.54" r="7.4" fill="#111"/>
<circle cx="1760.85" cy="1512.58" r="7.4" fill="#111"/>
<circle cx="1772.9" cy="1511.68" r="7.4" fill="#111"/>
<circle cx="1784.96" cy="1510.78" r="7.4" fill="#111"/>
<circle cx="1758.44" cy="1519.82" r="7.4" fill="#111"/>
<circle cx="1788.58" cy="1519.82" r="7.4" fill="#111"/>
<circle cx="1771.4" cy="1535.79" r="7.4" fill="#111"/>
<circle cx="1778.03" cy="1544.84" r="7.4" fill="#111"/>
<circle cx="1764.47" cy="1559.91" r="7.4" fill="#111"/>
<circle cx="1775.92" cy="1556.89" r="7.4" fill="#111"/>
<circle cx="1785.56" cy="1558.4" r="7.4" fill="#111"/>
<circle cx="1772.9" cy="1568.04" r="7.4" fill="#111"/>
<circle cx="1764.47" cy="1578.29" r="7.4" fill="#111"/>
<circle cx="1779.54" cy="1576.48" r="7.4" fill="#111"/>
<circle cx="1783.76" cy="1586.13" r="7.4" fill="#111"/>
<circle cx="1772.9" cy="1592.16" r="7.4" fill="#111"/>
<circle cx="1774.41" cy="1612.05" r="7.4" fill="#111"/>
<circle cx="1774.41" cy="1630.74" r="7.4" fill="#111"/>
<circle cx="1774.41" cy="1658.47" r="7.4" fill="#111"/>
<circle cx="1774.41" cy="1673.54" r="7.4" fill="#111"/>
<circle cx="1747.89" cy="1676.55" r="7.4" fill="#111"/>
<circle cx="1758.44" cy="1681.07" r="7.4" fill="#111"/>
<circle cx="1743.37" cy="1687.1" r="7.4" fill="#111"/>
<circle cx="1749.09" cy="1687.1" r="7.4" fill="#111"/>
<circle cx="1754.82" cy="1687.1" r="7.4" fill="#111"/>
<circle cx="1760.55" cy="1687.1" r="7.4" fill="#111"/>
<circle cx="1766.27" cy="1687.1" r="7.4" fill="#111"/>
<circle cx="1772" cy="1687.1" r="7.4" fill="#111"/>
<circle cx="1777.73" cy="1687.1" r="7.4" fill="#111"/>
<circle cx="1783.45" cy="1687.1" r="7.4" fill="#111"/>
<circle cx="1789.18" cy="1687.1" r="7.4" fill="#111"/>
<circle cx="1794.91" cy="1687.1" r="7.4" fill="#111"/>
<circle cx="1800.63" cy="1687.1" r="7.4" fill="#111"/>
<circle cx="1806.36" cy="1687.1" r="7.4" fill="#111"/>
<rect x="1884.23" y="1374.54" width="14.6" height="14.6" fill="#ffb05a"/>
<rect x="1884.23" y="1391.12" width="14.6" height="14.6" fill="#ffb05a"/>
<rect x="1884.23" y="1440.47" width="14.6" height="14.6" fill="#ffb05a"/>
<rect x="1884.6" y="1450.05" width="14.6" height="14.6" fill="#ffb05a"/>
<rect x="1883.86" y="1458.89" width="14.6" height="14.6" fill="#ffb05a"/>
<rect x="1884.23" y="1478.04" width="14.6" height="14.6" fill="#ffb05a"/>
<rect x="1883.94" y="1520.03" width="14.6" height="14.6" fill="#ffb05a"/>
<rect x="1883.79" y="1526.66" width="14.6" height="14.6" fill="#ffb05a"/>
<rect x="1884.11" y="1533.29" width="14.6" height="14.6" fill="#ffb05a"/>
<rect x="1883.85" y="1539.92" width="14.6" height="14.6" fill="#ffb05a"/>
<rect x="1883.75" y="1546.55" width="14.6" height="14.6" fill="#ffb05a"/>
<rect x="1884.12" y="1553.18" width="14.6" height="14.6" fill="#ffb05a"/>
<rect x="1884.69" y="1559.81" width="14.6" height="14.6" fill="#ffb05a"/>
<rect x="1882.64" y="1566.44" width="14.6" height="14.6" fill="#ffb05a"/>
<rect x="1886.44" y="1566.44" width="14.6" height="14.6" fill="#ffb05a"/>
<rect x="1881.24" y="1573.07" width="14.6" height="14.6" fill="#ffb05a"/>
<rect x="1886.95" y="1573.07" width="14.6" height="14.6" fill="#ffb05a"/>
<rect x="1880.53" y="1579.7" width="14.6" height="14.6" fill="#ffb05a"/>
<rect x="1883.87" y="1579.7" width="14.6" height="14.6" fill="#ffb05a"/>
<rect x="1887.24" y="1579.7" width="14.6" height="14.6" fill="#ffb05a"/>
<rect x="1879.7" y="1586.33" width="14.6" height="14.6" fill="#ffb05a"/>
<rect x="1884.7" y="1586.33" width="14.6" height="14.6" fill="#ffb05a"/>
<rect x="1888.81" y="1586.33" width="14.6" height="14.6" fill="#ffb05a"/>
<rect x="1879.59" y="1592.96" width="14.6" height="14.6" fill="#ffb05a"/>
<rect x="1884.56" y="1592.96" width="14.6" height="14.6" fill="#ffb05a"/>
<rect x="1888.87" y="1592.96" width="14.6" height="14.6" fill="#ffb05a"/>
<rect x="1879.63" y="1599.59" width="14.6" height="14.6" fill="#ffb05a"/>
<rect x="1884.37" y="1599.59" width="14.6" height="14.6" fill="#ffb05a"/>
<rect x="1888.87" y="1599.59" width="14.6" height="14.6" fill="#ffb05a"/>
<rect x="1881" y="1606.22" width="14.6" height="14.6" fill="#ffb05a"/>
<rect x="1884.65" y="1606.22" width="14.6" height="14.6" fill="#ffb05a"/>
<rect x="1887.39" y="1606.22" width="14.6" height="14.6" fill="#ffb05a"/>
<rect x="1881.49" y="1612.85" width="14.6" height="14.6" fill="#ffb05a"/>
<rect x="1887.27" y="1612.85" width="14.6" height="14.6" fill="#ffb05a"/>
<rect x="1882.15" y="1619.48" width="14.6" height="14.6" fill="#ffb05a"/>
<rect x="1885.96" y="1619.48" width="14.6" height="14.6" fill="#ffb05a"/>
<rect x="1884.2" y="1626.11" width="14.6" height="14.6" fill="#ffb05a"/>
<rect x="1883.77" y="1632.74" width="14.6" height="14.6" fill="#ffb05a"/>
<rect x="1884.71" y="1639.37" width="14.6" height="14.6" fill="#ffb05a"/>
<rect x="1884.63" y="1646" width="14.6" height="14.6" fill="#ffb05a"/>
<rect x="1884.28" y="1652.63" width="14.6" height="14.6" fill="#ffb05a"/>
<rect x="1884.01" y="1659.26" width="14.6" height="14.6" fill="#ffb05a"/>
<rect x="1884.68" y="1665.89" width="14.6" height="14.6" fill="#ffb05a"/>
<rect x="1884.31" y="1672.52" width="14.6" height="14.6" fill="#ffb05a"/>
<rect x="1853.84" y="1669.57" width="14.6" height="14.6" fill="#ffb05a"/>
<rect x="1852.55" y="1679.88" width="14.6" height="14.6" fill="#ffb05a"/>
<rect x="1859.92" y="1679.88" width="14.6" height="14.6" fill="#ffb05a"/>
<rect x="1867.29" y="1679.88" width="14.6" height="14.6" fill="#ffb05a"/>
<rect x="1874.65" y="1679.88" width="14.6" height="14.6" fill="#ffb05a"/>
<rect x="1882.02" y="1679.88" width="14.6" height="14.6" fill="#ffb05a"/>
<rect x="1889.39" y="1679.88" width="14.6" height="14.6" fill="#ffb05a"/>
<rect x="1896.75" y="1679.88" width="14.6" height="14.6" fill="#ffb05a"/>
<rect x="1904.12" y="1679.88" width="14.6" height="14.6" fill="#ffb05a"/>
<rect x="1911.48" y="1679.88" width="14.6" height="14.6" fill="#ffb05a"/>
<rect x="1918.85" y="1679.88" width="14.6" height="14.6" fill="#ffb05a"/>
<path d="M2008.31 1473.75 l7.75 14.26 h-15.5z" fill="#a9c3df"/>
<path d="M2006.71 1492.84 l7.75 14.26 h-15.5z" fill="#a9c3df"/>
<path d="M2009.32 1502.89 l7.75 14.26 h-15.5z" fill="#a9c3df"/>
<path d="M2007.51 1512.93 l7.75 14.26 h-15.5z" fill="#a9c3df"/>
<path d="M2009.12 1522.98 l7.75 14.26 h-15.5z" fill="#a9c3df"/>
<path d="M2004.7 1538.05 l7.75 14.26 h-15.5z" fill="#a9c3df"/>
<path d="M2011.93 1537.45 l7.75 14.26 h-15.5z" fill="#a9c3df"/>
<path d="M2008.31 1532.02 l7.75 14.26 h-15.5z" fill="#a9c3df"/>
<path d="M2008.31 1561.16 l7.75 14.26 h-15.5z" fill="#a9c3df"/>
<path d="M2004.7 1571.2 l7.75 14.26 h-15.5z" fill="#a9c3df"/>
<path d="M2011.93 1571.6 l7.75 14.26 h-15.5z" fill="#a9c3df"/>
<path d="M2006.71 1581.25 l7.75 14.26 h-15.5z" fill="#a9c3df"/>
<path d="M2009.12 1591.7 l7.75 14.26 h-15.5z" fill="#a9c3df"/>
<path d="M2008.31 1611.39 l7.75 14.26 h-15.5z" fill="#a9c3df"/>
<path d="M2005.3 1617.82 l7.75 14.26 h-15.5z" fill="#a9c3df"/>
<path d="M2011.53 1617.41 l7.75 14.26 h-15.5z" fill="#a9c3df"/>
<path d="M2008.31 1635.5 l7.75 14.26 h-15.5z" fill="#a9c3df"/>
<path d="M2008.31 1653.58 l7.75 14.26 h-15.5z" fill="#a9c3df"/>
<path d="M2008.72 1663.63 l7.75 14.26 h-15.5z" fill="#a9c3df"/>
<path d="M1976.17 1680.1 l7.75 14.26 h-15.5z" fill="#a9c3df"/>
<path d="M1979.58 1680.1 l7.75 14.26 h-15.5z" fill="#a9c3df"/>
<path d="M1983 1680.1 l7.75 14.26 h-15.5z" fill="#a9c3df"/>
<path d="M1986.41 1680.1 l7.75 14.26 h-15.5z" fill="#a9c3df"/>
<path d="M1989.83 1680.1 l7.75 14.26 h-15.5z" fill="#a9c3df"/>
<path d="M1993.24 1680.1 l7.75 14.26 h-15.5z" fill="#a9c3df"/>
<path d="M1996.66 1680.1 l7.75 14.26 h-15.5z" fill="#a9c3df"/>
<path d="M2000.08 1680.1 l7.75 14.26 h-15.5z" fill="#a9c3df"/>
<path d="M2003.49 1680.1 l7.75 14.26 h-15.5z" fill="#a9c3df"/>
<path d="M2006.91 1680.1 l7.75 14.26 h-15.5z" fill="#a9c3df"/>
<path d="M2010.32 1680.1 l7.75 14.26 h-15.5z" fill="#a9c3df"/>
<path d="M2013.74 1680.1 l7.75 14.26 h-15.5z" fill="#a9c3df"/>
<path d="M2017.15 1680.1 l7.75 14.26 h-15.5z" fill="#a9c3df"/>
<path d="M2020.57 1680.1 l7.75 14.26 h-15.5z" fill="#a9c3df"/>
<path d="M2023.99 1680.1 l7.75 14.26 h-15.5z" fill="#a9c3df"/>
<path d="M2027.4 1680.1 l7.75 14.26 h-15.5z" fill="#a9c3df"/>
<path d="M2030.82 1680.1 l7.75 14.26 h-15.5z" fill="#a9c3df"/>
<path d="M2034.23 1680.1 l7.75 14.26 h-15.5z" fill="#a9c3df"/>
<path d="M2037.65 1680.1 l7.75 14.26 h-15.5z" fill="#a9c3df"/>
<path d="M2041.06 1680.1 l7.75 14.26 h-15.5z" fill="#a9c3df"/>
<path d="M2124.85 1363.5 l7.6 7.6 l-7.6 7.6 l-7.6 -7.6z" fill="#ff201c"/>
<path d="M2124.85 1392.63 l7.6 7.6 l-7.6 7.6 l-7.6 -7.6z" fill="#ff201c"/>
<path d="M2125.85 1418.75 l7.6 7.6 l-7.6 7.6 l-7.6 -7.6z" fill="#ff201c"/>
<path d="M2124.45 1430.81 l7.6 7.6 l-7.6 7.6 l-7.6 -7.6z" fill="#ff201c"/>
<path d="M2121.84 1476.62 l7.6 7.6 l-7.6 7.6 l-7.6 -7.6z" fill="#ff201c"/>
<path d="M2127.86 1485.46 l7.6 7.6 l-7.6 7.6 l-7.6 -7.6z" fill="#ff201c"/>
<path d="M2125.85 1493.5 l7.6 7.6 l-7.6 7.6 l-7.6 -7.6z" fill="#ff201c"/>
<path d="M2124.85 1512.18 l7.6 7.6 l-7.6 7.6 l-7.6 -7.6z" fill="#ff201c"/>
<path d="M2124.85 1521.62 l7.6 7.6 l-7.6 7.6 l-7.6 -7.6z" fill="#ff201c"/>
<path d="M2124.85 1560.4 l7.6 7.6 l-7.6 7.6 l-7.6 -7.6z" fill="#ff201c"/>
<path d="M2123.85 1570.45 l7.6 7.6 l-7.6 7.6 l-7.6 -7.6z" fill="#ff201c"/>
<path d="M2120.83 1579.89 l7.6 7.6 l-7.6 7.6 l-7.6 -7.6z" fill="#ff201c"/>
<path d="M2129.87 1579.09 l7.6 7.6 l-7.6 7.6 l-7.6 -7.6z" fill="#ff201c"/>
<path d="M2117.82 1589.54 l7.6 7.6 l-7.6 7.6 l-7.6 -7.6z" fill="#ff201c"/>
<path d="M2125.85 1589.13 l7.6 7.6 l-7.6 7.6 l-7.6 -7.6z" fill="#ff201c"/>
<path d="M2132.89 1591.55 l7.6 7.6 l-7.6 7.6 l-7.6 -7.6z" fill="#ff201c"/>
<path d="M2124.85 1599.58 l7.6 7.6 l-7.6 7.6 l-7.6 -7.6z" fill="#ff201c"/>
<path d="M2118.82 1609.63 l7.6 7.6 l-7.6 7.6 l-7.6 -7.6z" fill="#ff201c"/>
<path d="M2125.85 1610.63 l7.6 7.6 l-7.6 7.6 l-7.6 -7.6z" fill="#ff201c"/>
<path d="M2131.88 1616.66 l7.6 7.6 l-7.6 7.6 l-7.6 -7.6z" fill="#ff201c"/>
<path d="M2119.83 1618.07 l7.6 7.6 l-7.6 7.6 l-7.6 -7.6z" fill="#ff201c"/>
<path d="M2124.85 1627.71 l7.6 7.6 l-7.6 7.6 l-7.6 -7.6z" fill="#ff201c"/>
<path d="M2120.83 1636.15 l7.6 7.6 l-7.6 7.6 l-7.6 -7.6z" fill="#ff201c"/>
<path d="M2129.87 1635.75 l7.6 7.6 l-7.6 7.6 l-7.6 -7.6z" fill="#ff201c"/>
<path d="M2124.85 1644.79 l7.6 7.6 l-7.6 7.6 l-7.6 -7.6z" fill="#ff201c"/>
<path d="M2119.83 1654.23 l7.6 7.6 l-7.6 7.6 l-7.6 -7.6z" fill="#ff201c"/>
<path d="M2127.86 1653.43 l7.6 7.6 l-7.6 7.6 l-7.6 -7.6z" fill="#ff201c"/>
<path d="M2131.88 1662.27 l7.6 7.6 l-7.6 7.6 l-7.6 -7.6z" fill="#ff201c"/>
<path d="M2123.85 1662.87 l7.6 7.6 l-7.6 7.6 l-7.6 -7.6z" fill="#ff201c"/>
<path d="M2096.72 1671.31 l7.6 7.6 l-7.6 7.6 l-7.6 -7.6z" fill="#ff201c"/>
<path d="M2142.93 1669.5 l7.6 7.6 l-7.6 7.6 l-7.6 -7.6z" fill="#ff201c"/>
<path d="M2095.11 1679.95 l7.6 7.6 l-7.6 7.6 l-7.6 -7.6z" fill="#ff201c"/>
<path d="M2099.53 1679.95 l7.6 7.6 l-7.6 7.6 l-7.6 -7.6z" fill="#ff201c"/>
<path d="M2103.95 1679.95 l7.6 7.6 l-7.6 7.6 l-7.6 -7.6z" fill="#ff201c"/>
<path d="M2108.37 1679.95 l7.6 7.6 l-7.6 7.6 l-7.6 -7.6z" fill="#ff201c"/>
<path d="M2112.79 1679.95 l7.6 7.6 l-7.6 7.6 l-7.6 -7.6z" fill="#ff201c"/>
<path d="M2117.22 1679.95 l7.6 7.6 l-7.6 7.6 l-7.6 -7.6z" fill="#ff201c"/>
<path d="M2121.64 1679.95 l7.6 7.6 l-7.6 7.6 l-7.6 -7.6z" fill="#ff201c"/>
<path d="M2126.06 1679.95 l7.6 7.6 l-7.6 7.6 l-7.6 -7.6z" fill="#ff201c"/>
<path d="M2130.48 1679.95 l7.6 7.6 l-7.6 7.6 l-7.6 -7.6z" fill="#ff201c"/>
<path d="M2134.9 1679.95 l7.6 7.6 l-7.6 7.6 l-7.6 -7.6z" fill="#ff201c"/>
<path d="M2139.32 1679.95 l7.6 7.6 l-7.6 7.6 l-7.6 -7.6z" fill="#ff201c"/>
<path d="M2143.74 1679.95 l7.6 7.6 l-7.6 7.6 l-7.6 -7.6z" fill="#ff201c"/>
<path d="M2148.16 1679.95 l7.6 7.6 l-7.6 7.6 l-7.6 -7.6z" fill="#ff201c"/>
<path d="M2152.58 1679.95 l7.6 7.6 l-7.6 7.6 l-7.6 -7.6z" fill="#ff201c"/>
<path d="M2157 1679.95 l7.6 7.6 l-7.6 7.6 l-7.6 -7.6z" fill="#ff201c"/>
<path d="M2161.42 1679.95 l7.6 7.6 l-7.6 7.6 l-7.6 -7.6z" fill="#ff201c"/>
<path d="M1755 1463.5 H1793 M1755 1637.7 H1793 M1774 1463.5 V1637.7" fill="none" stroke="#111" stroke-width="4.6" stroke-linecap="round"/>
<path d="M1872.5 1541 H1910.5 M1872.5 1687.2 H1910.5 M1891.5 1541 V1687.2" fill="none" stroke="#65503c" stroke-width="4.6" stroke-linecap="round"/>
<path d="M1989.4 1557 H2027.4 M1989.4 1687.2 H2027.4 M2008.4 1557 V1687.2" fill="none" stroke="#0d558c" stroke-width="4.6" stroke-linecap="round"/>
<path d="M2106.5 1525.2 H2144.5 M2106.5 1687.2 H2144.5 M2125.5 1525.2 V1687.2" fill="none" stroke="#ff201c" stroke-width="4.6" stroke-linecap="round"/>
<text transform="translate(1785 1726.7) rotate(-45)" font-size="36" text-anchor="end">CFP/YFP Col I</text>
<text transform="translate(1902.5 1726.7) rotate(-45)" font-size="36" text-anchor="end">CFP/YFP FN</text>
<text transform="translate(2019.4 1726.7) rotate(-45)" font-size="36" text-anchor="end">CFP/YFP<tspan font-size="27" dy="-7">K653A</tspan><tspan dy="7"> Col I</tspan></text>
<text transform="translate(2136.5 1726.7) rotate(-45)" font-size="36" text-anchor="end">MRIP<tspan font-size="29" dy="-6">-/-</tspan><tspan dy="6"> CFP/YFP Col I</tspan></text>
<text transform="translate(1630 1546) rotate(-90)" font-size="37">E<tspan font-size="28" dy="14.5">FRET</tspan></text>
<text x="1892" y="1343" font-size="26" text-anchor="middle">****</text>
<text x="2010" y="1437.5" font-size="26" text-anchor="middle">****</text>
<text x="2125" y="1343" font-size="26" text-anchor="middle">***</text>
</g>
<g id="pF">
<text x="71.5" y="1303" font-size="47.33" font-family='"Liberation Serif", serif' font-weight="bold" textLength="23.5" lengthAdjust="spacingAndGlyphs">F</text>
<text x="212" y="1368" font-size="34" text-anchor="middle">DDR1b</text>
<rect x="118.5" y="1373.3" width="185" height="3" fill="#000"/>
<text x="158.5" y="1406.5" font-size="27" text-anchor="middle">CFP</text>
<text x="270" y="1406.5" font-size="27" text-anchor="middle">YFP</text>
<rect x="98.5" y="1658.5" width="230" height="23.5" fill="#788c87"/>
<text x="157" y="1424.5" font-size="13.5" text-anchor="middle" fill="#222" letter-spacing="0.6">NT</text>
<rect x="153" y="1609.5" width="5" height="210" fill="#000"/>
<rect x="153" y="1740.5" width="5" height="21.5" fill="#ff1430"/>
<rect x="124.8" y="1429.5" width="64" height="95" fill="#008c5a" rx="15" ry="15"/>
<rect x="124.8" y="1522" width="64" height="92.5" fill="#a5e6cd" rx="15" ry="15"/>
<text x="156.8" y="1481.5" font-size="20" text-anchor="middle" fill="#0b1f16">DS</text>
<text x="156.8" y="1574.5" font-size="20" text-anchor="middle" fill="#0b1f16">DS-like</text>
<rect x="147" y="1879.5" width="16" height="60" fill="#00b4d2"/>
<circle cx="155.5" cy="1845" r="38.5" fill="#bea000"/>
<text x="155.5" y="1851" font-size="21" text-anchor="middle" fill="#0b1f16">Kinase</text>
<text x="155" y="1899.5" font-size="14.5" text-anchor="middle" fill="#222">C</text>
<text x="155" y="1916.3" font-size="14.5" text-anchor="middle" fill="#222">F</text>
<text x="155" y="1933.1" font-size="14.5" text-anchor="middle" fill="#222">P</text>
<text x="153.5" y="1955.5" font-size="13" text-anchor="middle" fill="#222">CT</text>
<text x="272.5" y="1424.5" font-size="13.5" text-anchor="middle" fill="#222" letter-spacing="0.6">NT</text>
<rect x="268.5" y="1609.5" width="5" height="210" fill="#000"/>
<rect x="268.5" y="1740.5" width="5" height="21.5" fill="#ff1430"/>
<rect x="240.3" y="1429.5" width="64" height="95" fill="#008c5a" rx="15" ry="15"/>
<rect x="240.3" y="1522" width="64" height="92.5" fill="#a5e6cd" rx="15" ry="15"/>
<text x="272.3" y="1481.5" font-size="20" text-anchor="middle" fill="#0b1f16">DS</text>
<text x="272.3" y="1574.5" font-size="20" text-anchor="middle" fill="#0b1f16">DS-like</text>
<rect x="262.5" y="1879.5" width="16" height="60" fill="#ffdc00"/>
<circle cx="271" cy="1845" r="38.5" fill="#bea000"/>
<text x="271" y="1851" font-size="21" text-anchor="middle" fill="#0b1f16">Kinase</text>
<text x="270.5" y="1899.5" font-size="14.5" text-anchor="middle" fill="#222">Y</text>
<text x="270.5" y="1916.3" font-size="14.5" text-anchor="middle" fill="#222">F</text>
<text x="270.5" y="1933.1" font-size="14.5" text-anchor="middle" fill="#222">P</text>
<text x="269" y="1955.5" font-size="13" text-anchor="middle" fill="#222">CT</text>
<rect x="139.5" y="1658.5" width="32.5" height="23.5" fill="#ff1430"/>
<rect x="255" y="1658.5" width="32.5" height="23.5" fill="#ff1430"/>
<text x="156" y="1677" font-size="18" text-anchor="middle" fill="#1a0505">TM</text>
<text x="271.5" y="1677" font-size="18" text-anchor="middle" fill="#1a0505">TM</text>
<text transform="translate(96.5 1629) rotate(-90)" font-size="33.5">Extracellular</text>
<text transform="translate(96.5 1876) rotate(-90)" font-size="33.5">Intracellular</text>
<text x="479" y="1368" font-size="34" text-anchor="middle">DDR1b</text>
<rect x="387.5" y="1372.5" width="231.5" height="3" fill="#000"/>
<text x="426.5" y="1406.5" font-size="27" text-anchor="middle">CFP</text>
<text x="555" y="1406.5" font-size="27" text-anchor="middle">YFPK635A</text>
<rect x="366.5" y="1658.5" width="230" height="23.5" fill="#788c87"/>
<text x="425.5" y="1424.5" font-size="13.5" text-anchor="middle" fill="#222" letter-spacing="0.6">NT</text>
<rect x="421.5" y="1609.5" width="5" height="210" fill="#000"/>
<rect x="421.5" y="1740.5" width="5" height="21.5" fill="#ff1430"/>
<rect x="393.3" y="1429.5" width="64" height="95" fill="#008c5a" rx="15" ry="15"/>
<rect x="393.3" y="1522" width="64" height="92.5" fill="#a5e6cd" rx="15" ry="15"/>
<text x="425.3" y="1481.5" font-size="20" text-anchor="middle" fill="#0b1f16">DS</text>
<text x="425.3" y="1574.5" font-size="20" text-anchor="middle" fill="#0b1f16">DS-like</text>
<rect x="415.5" y="1879.5" width="16" height="60" fill="#00b4d2"/>
<circle cx="424" cy="1845" r="38.5" fill="#bea000"/>
<text x="424" y="1851" font-size="21" text-anchor="middle" fill="#0b1f16">Kinase</text>
<text x="423.5" y="1899.5" font-size="14.5" text-anchor="middle" fill="#222">C</text>
<text x="423.5" y="1916.3" font-size="14.5" text-anchor="middle" fill="#222">F</text>
<text x="423.5" y="1933.1" font-size="14.5" text-anchor="middle" fill="#222">P</text>
<text x="422" y="1955.5" font-size="13" text-anchor="middle" fill="#222">CT</text>
<text x="540.5" y="1424.5" font-size="13.5" text-anchor="middle" fill="#222" letter-spacing="0.6">NT</text>
<rect x="536.5" y="1609.5" width="5" height="210" fill="#000"/>
<rect x="536.5" y="1740.5" width="5" height="21.5" fill="#ff1430"/>
<rect x="508.3" y="1429.5" width="64" height="95" fill="#008c5a" rx="15" ry="15"/>
<rect x="508.3" y="1522" width="64" height="92.5" fill="#a5e6cd" rx="15" ry="15"/>
<text x="540.3" y="1481.5" font-size="20" text-anchor="middle" fill="#0b1f16">DS</text>
<text x="540.3" y="1574.5" font-size="20" text-anchor="middle" fill="#0b1f16">DS-like</text>
<rect x="530.5" y="1879.5" width="16" height="60" fill="#ffdc00"/>
<circle cx="539" cy="1845" r="38.5" fill="#bea000"/>
<rect x="499" y="1817.5" width="80" height="7" fill="#fff"/>
<text x="539" y="1851" font-size="21" text-anchor="middle" fill="#0b1f16">Kinase</text>
<text x="538.5" y="1899.5" font-size="14.5" text-anchor="middle" fill="#222">Y</text>
<text x="538.5" y="1916.3" font-size="14.5" text-anchor="middle" fill="#222">F</text>
<text x="538.5" y="1933.1" font-size="14.5" text-anchor="middle" fill="#222">P</text>
<text x="537" y="1955.5" font-size="13" text-anchor="middle" fill="#222">CT</text>
<text transform="translate(569 1824.5) rotate(-27)" font-size="20.5" fill="#222">-K653A</text>
<rect x="408" y="1658.5" width="32.5" height="23.5" fill="#ff1430"/>
<rect x="523" y="1658.5" width="32.5" height="23.5" fill="#ff1430"/>
<text x="424.5" y="1677" font-size="18" text-anchor="middle" fill="#1a0505">TM</text>
<text x="539.5" y="1677" font-size="18" text-anchor="middle" fill="#1a0505">TM</text>
<text transform="translate(365 1629) rotate(-90)" font-size="33.5">Extracellular</text>
<text transform="translate(365 1876) rotate(-90)" font-size="33.5">Intracellular</text>
</g>
</svg>
</body></html>
